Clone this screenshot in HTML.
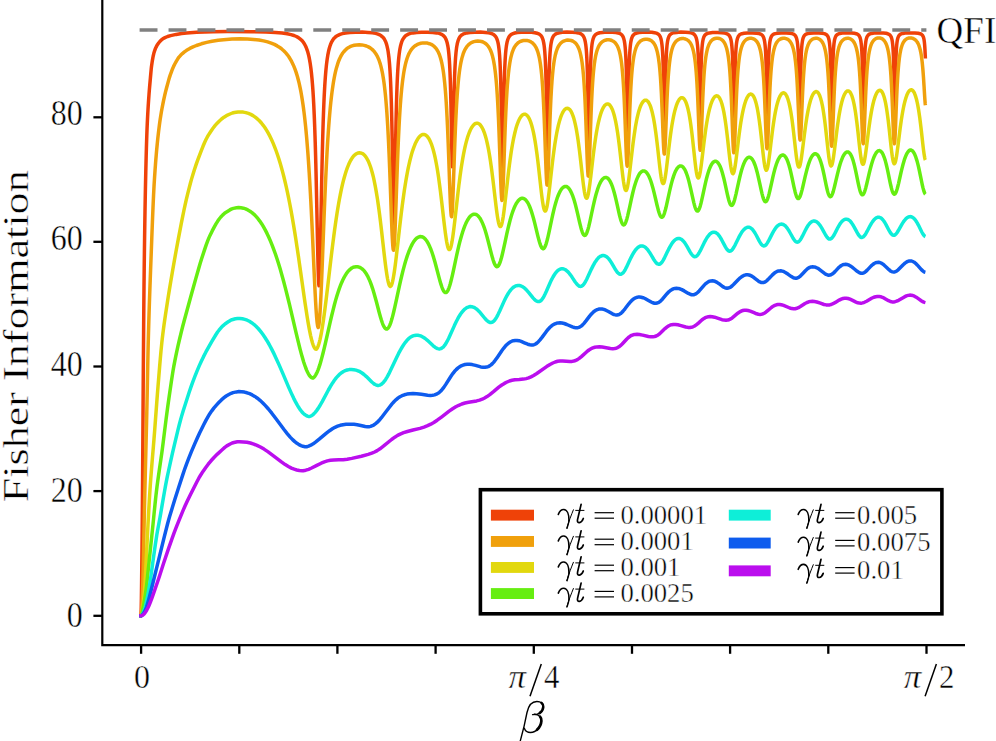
<!DOCTYPE html>
<html><head><meta charset="utf-8"><title>Fisher Information</title>
<style>html,body{margin:0;padding:0;background:#fff;}svg{display:block}</style></head>
<body><svg width="996" height="741" viewBox="0 0 996 741">
<rect x="0" y="0" width="996" height="741" fill="#fff"/>
<path d="M139.2,615.8 L140.8,615.8 L141.0,615.6 L141.2,609.9 L141.4,598.3 L141.6,582.9 L142.0,548.6 L142.2,528.0 L142.4,503.7 L142.6,477.7 L142.8,447.8 L143.0,415.7 L143.2,385.4 L143.4,358.6 L143.6,332.7 L143.8,308.3 L144.0,286.6 L144.2,268.5 L144.4,252.4 L144.6,237.5 L144.8,223.9 L145.0,211.3 L145.2,199.9 L145.4,189.5 L145.6,180.1 L145.8,171.3 L146.0,163.1 L146.2,155.3 L146.4,148.1 L146.6,141.5 L146.8,135.5 L147.0,130.0 L147.2,125.2 L147.4,120.8 L147.6,116.8 L147.8,113.0 L148.0,109.5 L148.2,106.2 L148.4,103.1 L148.6,100.2 L149.0,94.5 L149.2,91.9 L149.4,89.4 L149.6,87.0 L150.4,78.0 L150.8,73.5 L151.0,71.3 L151.2,69.2 L151.4,67.3 L151.6,65.7 L152.0,62.9 L152.4,60.4 L152.8,58.1 L153.2,56.0 L153.6,54.3 L154.0,52.7 L154.6,50.8 L155.2,49.2 L155.8,47.7 L156.6,46.1 L157.4,44.7 L158.6,43.0 L160.0,41.3 L161.4,39.9 L162.8,38.8 L165.0,37.6 L167.6,36.5 L170.6,35.6 L176.2,34.4 L181.6,33.5 L186.6,32.9 L196.6,32.3 L213.0,31.8 L227.6,31.6 L252.0,31.7 L266.0,32.0 L275.4,32.4 L282.2,33.0 L287.2,33.8 L291.0,34.6 L294.0,35.5 L296.4,36.5 L298.4,37.6 L300.0,38.8 L301.4,40.0 L302.6,41.3 L303.6,42.6 L304.6,44.2 L305.4,45.7 L306.2,47.5 L306.8,49.1 L307.4,50.8 L308.0,52.8 L308.6,55.2 L309.0,56.9 L309.4,58.9 L309.8,61.1 L310.2,63.5 L310.6,66.2 L310.8,67.7 L311.0,69.3 L311.2,70.9 L311.4,72.7 L311.6,74.6 L311.8,76.6 L312.0,78.7 L312.2,81.0 L312.4,83.4 L312.6,86.0 L312.8,88.7 L313.0,91.7 L313.2,94.8 L313.4,98.2 L313.6,101.8 L313.8,105.7 L314.0,109.9 L314.2,114.3 L314.4,119.1 L314.6,124.2 L314.8,129.7 L315.0,135.6 L315.2,141.9 L315.4,148.6 L315.6,155.8 L315.8,163.4 L316.0,171.4 L316.2,179.9 L316.4,188.7 L316.6,198.0 L316.8,207.5 L317.4,236.7 L317.6,246.1 L317.8,255.1 L318.0,263.3 L318.2,270.6 L318.4,276.7 L318.6,281.3 L318.8,284.4 L319.0,285.7 L319.2,285.2 L319.4,282.8 L319.6,278.6 L319.8,272.9 L320.0,265.7 L320.2,257.4 L320.4,248.0 L320.6,238.1 L320.8,227.6 L321.2,206.4 L321.4,195.9 L321.6,185.8 L321.8,176.0 L322.0,166.7 L322.2,157.9 L322.4,149.6 L322.6,141.8 L322.8,134.5 L323.0,127.7 L323.2,121.4 L323.4,115.6 L323.6,110.2 L323.8,105.2 L324.0,100.5 L324.2,96.2 L324.4,92.3 L324.6,88.6 L324.8,85.2 L325.0,82.0 L325.2,79.1 L325.4,76.4 L325.6,73.9 L325.8,71.5 L326.0,69.3 L326.2,67.3 L326.4,65.4 L326.6,63.6 L326.8,62.0 L327.0,60.5 L327.2,59.0 L327.4,57.7 L327.8,55.2 L328.2,53.1 L328.6,51.2 L329.0,49.5 L329.4,48.0 L330.0,46.0 L330.6,44.3 L331.2,42.9 L332.0,41.3 L332.8,40.0 L333.8,38.6 L335.0,37.4 L336.4,36.2 L338.0,35.3 L340.0,34.4 L342.4,33.6 L345.6,33.0 L349.8,32.5 L355.4,32.2 L362.2,32.1 L368.0,32.4 L372.4,32.8 L375.6,33.4 L378.0,34.1 L379.8,34.9 L381.2,35.8 L382.4,36.8 L383.4,37.8 L384.2,38.9 L384.8,40.0 L385.4,41.2 L386.0,42.7 L386.4,43.8 L386.8,45.2 L387.2,46.8 L387.6,48.6 L387.8,49.6 L388.0,50.8 L388.2,52.0 L388.4,53.4 L388.6,54.9 L388.8,56.5 L389.0,58.3 L389.2,60.3 L389.4,62.5 L389.6,64.9 L389.8,67.6 L390.0,70.6 L390.2,74.0 L390.4,77.7 L390.6,82.0 L390.8,86.7 L391.0,92.1 L391.2,98.1 L391.4,104.9 L391.6,112.5 L391.8,121.0 L392.0,130.5 L392.2,140.9 L392.4,152.3 L392.6,164.5 L393.0,189.7 L393.2,201.6 L393.4,211.9 L393.6,219.8 L393.8,224.4 L394.0,225.2 L394.2,222.1 L394.4,215.4 L394.6,205.8 L394.8,194.3 L395.0,181.7 L395.2,168.8 L395.4,156.2 L395.6,144.3 L395.8,133.3 L396.0,123.3 L396.2,114.2 L396.4,106.2 L396.6,99.0 L396.8,92.6 L397.0,87.0 L397.2,82.0 L397.4,77.6 L397.6,73.6 L397.8,70.1 L398.0,67.0 L398.2,64.2 L398.4,61.7 L398.6,59.4 L398.8,57.4 L399.0,55.6 L399.2,53.9 L399.4,52.4 L399.6,51.0 L399.8,49.8 L400.0,48.6 L400.2,47.6 L400.6,45.7 L401.0,44.2 L401.4,42.8 L401.8,41.7 L402.4,40.2 L403.0,39.1 L403.8,37.8 L404.6,36.8 L405.6,35.8 L406.8,35.0 L408.4,34.1 L410.4,33.4 L413.0,32.9 L416.6,32.4 L421.6,32.2 L427.8,32.2 L433.0,32.4 L436.6,32.9 L439.2,33.4 L441.0,34.1 L442.4,34.8 L443.4,35.6 L444.2,36.4 L445.0,37.4 L445.6,38.5 L446.2,39.8 L446.6,40.9 L447.0,42.2 L447.2,43.0 L447.4,43.8 L447.6,44.8 L447.8,45.8 L448.0,47.0 L448.2,48.3 L448.4,49.8 L448.6,51.5 L448.8,53.4 L449.0,55.6 L449.2,58.1 L449.4,60.9 L449.6,64.2 L449.8,68.1 L450.0,72.5 L450.2,77.6 L450.4,83.6 L450.6,90.5 L450.8,98.4 L451.0,107.4 L451.2,117.5 L451.4,128.3 L451.6,139.4 L451.8,150.0 L452.0,158.9 L452.2,164.8 L452.4,166.8 L452.6,164.5 L452.8,158.2 L453.0,149.1 L453.2,138.4 L453.4,127.2 L453.6,116.3 L453.8,106.2 L454.0,97.2 L454.2,89.3 L454.4,82.5 L454.6,76.5 L454.8,71.5 L455.0,67.1 L455.2,63.3 L455.4,60.1 L455.6,57.2 L455.8,54.8 L456.0,52.6 L456.2,50.8 L456.4,49.1 L456.6,47.6 L456.8,46.3 L457.0,45.2 L457.2,44.2 L457.4,43.2 L457.6,42.4 L458.0,41.0 L458.4,39.8 L458.8,38.8 L459.4,37.7 L460.0,36.7 L460.8,35.8 L461.8,34.9 L463.0,34.2 L464.6,33.5 L466.8,32.9 L470.0,32.5 L474.6,32.2 L480.4,32.1 L485.4,32.4 L488.6,32.8 L490.8,33.3 L492.4,33.9 L493.6,34.6 L494.6,35.4 L495.4,36.2 L496.0,37.1 L496.6,38.3 L497.0,39.2 L497.4,40.4 L497.6,41.1 L497.8,41.9 L498.0,42.7 L498.2,43.7 L498.4,44.8 L498.6,46.1 L498.8,47.5 L499.0,49.1 L499.2,51.0 L499.4,53.2 L499.6,55.7 L499.8,58.7 L500.0,62.2 L500.2,66.4 L500.4,71.4 L500.6,77.3 L500.8,84.3 L501.0,92.7 L501.2,102.6 L501.4,114.2 L501.6,127.1 L501.8,140.9 L502.0,154.3 L502.2,165.3 L502.4,171.9 L502.6,172.5 L502.8,166.9 L503.0,156.4 L503.2,143.2 L503.4,129.3 L503.6,116.1 L503.8,104.2 L504.0,94.0 L504.2,85.3 L504.4,78.0 L504.6,71.9 L504.8,66.8 L505.0,62.5 L505.2,58.9 L505.4,55.8 L505.6,53.2 L505.8,51.0 L506.0,49.1 L506.2,47.4 L506.4,45.9 L506.6,44.7 L506.8,43.6 L507.0,42.6 L507.2,41.7 L507.4,40.9 L507.8,39.6 L508.2,38.5 L508.6,37.7 L509.2,36.6 L509.8,35.8 L510.6,35.0 L511.6,34.3 L513.0,33.6 L514.8,33.0 L517.4,32.5 L521.2,32.2 L526.6,32.1 L531.6,32.3 L534.8,32.7 L537.0,33.2 L538.6,33.8 L539.8,34.5 L540.6,35.2 L541.2,35.9 L541.8,36.8 L542.2,37.6 L542.6,38.6 L543.0,39.8 L543.2,40.5 L543.4,41.4 L543.6,42.3 L543.8,43.4 L544.0,44.6 L544.2,46.1 L544.4,47.8 L544.6,49.7 L544.8,52.1 L545.0,54.9 L545.2,58.2 L545.4,62.2 L545.6,67.1 L545.8,73.0 L546.0,80.1 L546.2,88.8 L546.4,99.1 L546.6,110.9 L546.8,123.8 L547.0,136.4 L547.2,146.6 L547.4,152.1 L547.6,151.1 L547.8,144.1 L548.0,132.9 L548.2,120.0 L548.4,107.3 L548.6,95.8 L548.8,85.9 L549.0,77.7 L549.2,70.9 L549.4,65.3 L549.6,60.7 L549.8,56.8 L550.0,53.7 L550.2,51.1 L550.4,48.8 L550.6,47.0 L550.8,45.3 L551.0,44.0 L551.2,42.8 L551.4,41.8 L551.6,40.9 L551.8,40.1 L552.2,38.8 L552.6,37.7 L553.0,36.9 L553.6,35.9 L554.2,35.2 L555.0,34.5 L556.0,33.8 L557.4,33.2 L559.4,32.7 L562.4,32.3 L567.0,32.1 L572.2,32.2 L576.0,32.5 L578.4,32.9 L580.0,33.4 L581.2,34.0 L582.2,34.8 L582.8,35.4 L583.4,36.2 L583.8,37.0 L584.2,37.9 L584.6,39.0 L584.8,39.7 L585.0,40.5 L585.2,41.4 L585.4,42.5 L585.6,43.7 L585.8,45.1 L586.0,46.8 L586.2,48.8 L586.4,51.2 L586.6,54.1 L586.8,57.7 L587.0,62.0 L587.2,67.3 L587.4,73.8 L587.6,81.9 L587.8,91.7 L588.0,103.3 L588.2,116.2 L588.4,129.4 L588.6,140.4 L588.8,146.4 L589.0,145.4 L589.2,137.9 L589.4,126.0 L589.6,112.7 L589.8,99.9 L590.0,88.7 L590.2,79.4 L590.4,71.7 L590.6,65.5 L590.8,60.5 L591.0,56.4 L591.2,53.1 L591.4,50.3 L591.6,48.0 L591.8,46.1 L592.0,44.5 L592.2,43.1 L592.4,42.0 L592.6,41.0 L592.8,40.1 L593.0,39.3 L593.4,38.1 L593.8,37.1 L594.2,36.3 L594.8,35.4 L595.6,34.6 L596.6,33.9 L598.0,33.2 L599.8,32.7 L602.6,32.4 L607.0,32.1 L612.2,32.2 L615.8,32.5 L618.2,32.9 L619.8,33.5 L620.8,34.0 L621.6,34.7 L622.2,35.4 L622.8,36.3 L623.2,37.1 L623.6,38.2 L623.8,38.8 L624.0,39.6 L624.2,40.4 L624.4,41.4 L624.6,42.6 L624.8,44.0 L625.0,45.7 L625.2,47.6 L625.4,50.0 L625.6,53.0 L625.8,56.6 L626.0,61.1 L626.2,66.7 L626.4,73.7 L626.6,82.4 L626.8,92.8 L627.0,104.9 L627.2,117.6 L627.4,128.6 L627.6,135.0 L627.8,134.5 L628.0,127.2 L628.2,115.7 L628.4,102.9 L628.6,91.0 L628.8,80.7 L629.0,72.3 L629.2,65.5 L629.4,60.1 L629.6,55.7 L629.8,52.2 L630.0,49.4 L630.2,47.1 L630.4,45.2 L630.6,43.6 L630.8,42.2 L631.0,41.1 L631.2,40.1 L631.4,39.3 L631.6,38.6 L632.0,37.4 L632.4,36.5 L633.0,35.5 L633.6,34.8 L634.4,34.1 L635.4,33.5 L636.8,33.0 L639.0,32.5 L642.4,32.2 L647.4,32.1 L651.8,32.3 L654.6,32.7 L656.4,33.1 L657.6,33.7 L658.6,34.4 L659.2,35.0 L659.8,35.9 L660.2,36.7 L660.6,37.7 L660.8,38.3 L661.0,39.0 L661.2,39.9 L661.4,40.8 L661.6,42.0 L661.8,43.4 L662.0,45.0 L662.2,47.0 L662.4,49.5 L662.6,52.5 L662.8,56.3 L663.0,61.1 L663.2,67.1 L663.4,74.7 L663.6,84.1 L663.8,95.4 L664.0,107.8 L664.2,119.6 L664.4,127.7 L664.6,129.1 L664.8,123.3 L665.0,112.5 L665.2,100.0 L665.4,88.1 L665.6,77.9 L665.8,69.7 L666.0,63.1 L666.2,57.9 L666.4,53.7 L666.6,50.4 L666.8,47.8 L667.0,45.6 L667.2,43.8 L667.4,42.4 L667.6,41.1 L667.8,40.1 L668.0,39.2 L668.2,38.5 L668.4,37.8 L668.8,36.8 L669.2,35.9 L669.8,35.0 L670.4,34.4 L671.2,33.8 L672.4,33.2 L674.0,32.7 L676.6,32.4 L680.8,32.1 L685.6,32.2 L689.0,32.5 L691.2,32.9 L692.6,33.4 L693.6,33.9 L694.4,34.6 L695.0,35.3 L695.4,36.0 L695.8,36.8 L696.2,37.8 L696.4,38.5 L696.6,39.3 L696.8,40.2 L697.0,41.3 L697.2,42.6 L697.4,44.2 L697.6,46.1 L697.8,48.4 L698.0,51.4 L698.2,55.1 L698.4,59.8 L698.6,65.7 L698.8,73.3 L699.0,82.8 L699.2,94.0 L699.4,106.3 L699.6,117.4 L699.8,123.9 L700.0,123.1 L700.2,115.4 L700.4,103.8 L700.6,91.5 L700.8,80.6 L701.0,71.5 L701.2,64.3 L701.4,58.6 L701.6,54.2 L701.8,50.6 L702.0,47.8 L702.2,45.6 L702.4,43.8 L702.6,42.3 L702.8,41.0 L703.0,40.0 L703.2,39.1 L703.4,38.4 L703.6,37.7 L704.0,36.7 L704.4,35.9 L705.0,35.1 L705.6,34.5 L706.6,33.8 L707.8,33.3 L709.6,32.9 L712.6,32.6 L717.4,32.6 L721.8,32.8 L724.6,33.1 L726.4,33.6 L727.6,34.1 L728.4,34.7 L729.0,35.3 L729.6,36.1 L730.0,36.9 L730.4,37.8 L730.6,38.5 L730.8,39.2 L731.0,40.0 L731.2,41.0 L731.4,42.3 L731.6,43.7 L731.8,45.6 L732.0,47.8 L732.2,50.6 L732.4,54.1 L732.6,58.7 L732.8,64.5 L733.0,71.9 L733.2,81.2 L733.4,92.4 L733.6,104.4 L733.8,114.8 L734.0,120.0 L734.2,117.7 L734.4,108.9 L734.8,85.5 L735.0,75.4 L735.2,67.2 L735.4,60.8 L735.6,55.8 L735.8,51.9 L736.0,48.8 L736.2,46.3 L736.4,44.4 L736.6,42.8 L736.8,41.5 L737.0,40.4 L737.2,39.5 L737.4,38.7 L737.6,38.1 L738.0,37.1 L738.4,36.3 L739.0,35.4 L739.6,34.8 L740.6,34.2 L742.0,33.7 L744.0,33.3 L747.4,33.0 L752.6,32.9 L756.6,33.2 L759.0,33.6 L760.4,34.0 L761.4,34.5 L762.2,35.2 L762.8,35.9 L763.2,36.6 L763.6,37.5 L763.8,38.0 L764.0,38.7 L764.2,39.4 L764.4,40.4 L764.6,41.4 L764.8,42.8 L765.0,44.4 L765.2,46.4 L765.4,48.9 L765.6,52.0 L765.8,56.1 L766.0,61.3 L766.2,68.1 L766.4,76.7 L766.6,87.2 L766.8,99.0 L767.0,109.9 L767.2,116.4 L767.4,115.5 L767.6,107.8 L767.8,96.4 L768.0,84.7 L768.2,74.6 L768.4,66.4 L768.6,60.0 L768.8,55.0 L769.0,51.2 L769.2,48.2 L769.4,45.8 L769.6,43.9 L769.8,42.4 L770.0,41.1 L770.2,40.1 L770.4,39.2 L770.6,38.5 L770.8,37.9 L771.2,36.9 L771.6,36.1 L772.2,35.3 L773.0,34.6 L774.0,34.0 L775.4,33.6 L777.6,33.2 L781.2,33.0 L786.2,33.0 L789.8,33.2 L792.0,33.6 L793.4,34.1 L794.4,34.7 L795.0,35.3 L795.6,36.1 L796.0,36.9 L796.4,37.9 L796.6,38.5 L796.8,39.3 L797.0,40.2 L797.2,41.3 L797.4,42.6 L797.6,44.2 L797.8,46.3 L798.0,48.8 L798.2,52.1 L798.4,56.4 L798.6,61.9 L798.8,69.0 L799.0,78.0 L799.2,88.8 L799.4,100.4 L799.6,110.0 L799.8,113.9 L800.0,110.1 L800.2,100.6 L800.4,89.0 L800.6,78.1 L800.8,69.0 L801.0,61.9 L801.2,56.4 L801.4,52.1 L801.6,48.8 L801.8,46.2 L802.0,44.2 L802.2,42.6 L802.4,41.2 L802.6,40.1 L802.8,39.2 L803.0,38.5 L803.2,37.8 L803.6,36.8 L804.0,36.1 L804.6,35.3 L805.4,34.6 L806.4,34.0 L807.8,33.6 L810.0,33.2 L813.8,33.0 L818.8,33.0 L822.2,33.2 L824.2,33.6 L825.6,34.2 L826.4,34.7 L827.0,35.2 L827.6,36.0 L828.0,36.7 L828.4,37.7 L828.6,38.3 L828.8,39.0 L829.0,39.9 L829.2,40.9 L829.4,42.2 L829.6,43.8 L829.8,45.8 L830.0,48.3 L830.2,51.6 L830.4,55.7 L830.6,61.2 L830.8,68.2 L831.0,77.2 L831.2,88.0 L831.4,99.4 L831.6,108.7 L831.8,112.0 L832.0,107.6 L832.2,97.8 L832.4,86.3 L832.6,75.7 L832.8,67.0 L833.0,60.2 L833.2,55.0 L833.4,51.0 L833.6,47.9 L833.8,45.5 L834.0,43.5 L834.2,42.0 L834.4,40.7 L834.6,39.7 L834.8,38.9 L835.0,38.2 L835.2,37.6 L835.6,36.6 L836.0,35.9 L836.6,35.1 L837.4,34.5 L838.4,33.9 L840.0,33.5 L842.4,33.1 L846.6,32.9 L851.4,33.0 L854.4,33.3 L856.2,33.7 L857.4,34.2 L858.2,34.7 L858.8,35.3 L859.4,36.2 L859.8,37.0 L860.0,37.5 L860.2,38.1 L860.4,38.8 L860.6,39.7 L860.8,40.7 L861.0,41.9 L861.2,43.5 L861.4,45.4 L861.6,47.9 L861.8,51.0 L862.0,55.1 L862.2,60.5 L862.4,67.4 L862.6,76.3 L862.8,87.0 L863.0,98.4 L863.2,107.6 L863.4,110.7 L863.6,106.2 L863.8,96.3 L864.0,84.9 L864.2,74.5 L864.4,66.0 L864.6,59.3 L864.8,54.3 L865.0,50.4 L865.2,47.4 L865.4,45.0 L865.6,43.2 L865.8,41.7 L866.0,40.5 L866.2,39.5 L866.4,38.6 L866.6,38.0 L866.8,37.4 L867.2,36.5 L867.6,35.8 L868.2,35.1 L869.0,34.4 L870.0,33.9 L871.6,33.4 L874.2,33.1 L878.6,32.9 L883.2,33.0 L886.0,33.3 L887.8,33.8 L889.0,34.3 L889.8,34.9 L890.4,35.6 L890.8,36.2 L891.2,37.0 L891.4,37.5 L891.6,38.1 L891.8,38.9 L892.0,39.7 L892.2,40.8 L892.4,42.1 L892.6,43.7 L892.8,45.7 L893.0,48.3 L893.2,51.6 L893.4,55.9 L893.6,61.5 L893.8,68.8 L894.0,78.1 L894.2,89.0 L894.4,100.1 L894.6,107.9 L894.8,109.0 L895.0,102.7 L895.2,92.1 L895.4,80.9 L895.6,71.1 L895.8,63.2 L896.0,57.2 L896.2,52.6 L896.4,49.0 L896.6,46.3 L896.8,44.1 L897.0,42.4 L897.2,41.0 L897.4,39.9 L897.6,39.0 L897.8,38.3 L898.0,37.6 L898.4,36.6 L898.8,35.9 L899.4,35.1 L900.2,34.4 L901.2,33.9 L902.8,33.4 L905.2,33.1 L909.4,32.9 L914.8,33.0 L918.2,33.3 L920.0,33.7 L921.2,34.2 L922.0,34.8 L922.6,35.5 L923.0,36.1 L923.2,36.6 L923.4,37.1 L923.6,37.7 L923.8,38.5 L924.0,39.5 L924.2,40.7 L924.4,42.3 L924.6,44.3 L924.8,47.0 L925.0,50.4 L925.2,54.7 L925.4,58.5" fill="none" stroke="#ef4208" stroke-width="3.5" stroke-linejoin="round" stroke-linecap="butt"/>
<path d="M139.2,615.8 L141.0,615.8 L141.2,614.9 L141.4,613.0 L141.6,610.3 L141.8,606.9 L142.0,603.0 L142.2,598.8 L142.4,594.5 L142.6,589.8 L142.8,583.7 L143.0,576.5 L143.2,568.3 L143.4,559.3 L143.6,549.9 L143.8,540.1 L144.0,530.2 L144.2,520.4 L144.4,511.0 L144.6,502.1 L144.8,493.8 L145.0,485.6 L145.4,469.5 L145.8,453.6 L146.0,445.5 L146.2,437.3 L146.4,429.1 L146.6,420.6 L146.8,411.9 L147.0,402.8 L147.2,393.0 L147.4,382.9 L147.6,372.6 L147.8,362.5 L148.0,352.9 L148.2,344.0 L148.4,336.2 L148.6,329.0 L148.8,322.0 L149.0,315.4 L149.2,309.0 L149.4,302.9 L149.6,297.0 L149.8,291.3 L150.0,285.7 L150.2,280.2 L150.6,269.5 L151.8,237.7 L152.2,227.2 L152.4,222.1 L152.6,217.2 L152.8,212.3 L153.0,207.6 L153.2,203.0 L153.4,198.6 L153.6,194.4 L153.8,190.5 L154.0,186.7 L154.2,183.2 L154.4,180.0 L154.6,176.8 L154.8,173.8 L155.0,170.9 L155.2,168.0 L155.4,165.3 L155.6,162.7 L155.8,160.1 L156.2,155.3 L156.6,150.7 L157.0,146.5 L157.4,142.4 L157.8,138.5 L158.2,134.9 L158.6,131.4 L159.0,128.1 L159.4,125.0 L159.8,122.1 L160.2,119.3 L160.8,115.4 L161.4,111.8 L162.0,108.5 L162.8,104.3 L163.6,100.4 L164.6,95.9 L165.4,92.4 L166.4,88.5 L168.4,81.1 L169.4,77.6 L170.2,75.1 L171.4,71.8 L172.6,68.7 L173.6,66.4 L174.8,64.0 L176.4,61.1 L177.8,58.8 L179.0,57.1 L180.6,55.3 L182.4,53.6 L184.4,51.9 L186.6,50.3 L189.8,48.4 L193.0,46.9 L196.4,45.5 L201.4,43.8 L206.6,42.4 L212.0,41.3 L218.2,40.3 L226.4,39.4 L232.0,39.0 L239.8,38.8 L247.4,39.0 L253.6,39.4 L259.0,40.0 L263.6,40.9 L267.6,41.9 L271.2,43.1 L274.4,44.4 L277.2,45.9 L279.8,47.5 L282.0,49.2 L284.0,51.0 L285.8,52.9 L287.4,54.8 L289.0,57.0 L290.4,59.3 L291.6,61.4 L292.8,63.9 L293.8,66.1 L294.8,68.6 L295.8,71.4 L296.6,73.9 L297.4,76.5 L298.2,79.5 L299.0,82.7 L299.6,85.3 L300.2,88.2 L300.8,91.2 L301.4,94.5 L302.0,98.1 L302.6,101.9 L303.2,106.1 L303.6,109.0 L304.0,112.1 L304.4,115.4 L304.8,118.9 L305.2,122.6 L305.6,126.4 L306.0,130.5 L306.4,134.9 L306.8,139.4 L307.2,144.3 L307.6,149.3 L308.0,154.7 L308.4,160.4 L308.8,166.3 L309.2,172.6 L309.6,179.2 L310.0,186.1 L310.4,193.3 L310.8,200.8 L311.2,208.7 L311.6,216.8 L312.0,225.2 L312.4,233.7 L313.0,246.9 L314.0,269.1 L314.4,277.8 L314.6,282.0 L314.8,286.2 L315.0,290.2 L315.2,294.1 L315.4,297.9 L315.6,301.6 L315.8,305.0 L316.0,308.3 L316.2,311.4 L316.4,314.2 L316.6,316.8 L316.8,319.2 L317.0,321.3 L317.2,323.1 L317.4,324.6 L317.6,325.8 L317.8,326.7 L318.0,327.2 L318.2,327.5 L318.4,327.2 L318.6,326.5 L318.8,325.5 L319.0,324.2 L319.2,322.6 L319.4,320.6 L319.6,318.3 L319.8,315.6 L320.0,312.7 L320.2,309.5 L320.4,306.0 L320.6,302.3 L320.8,298.3 L321.0,294.2 L321.2,289.8 L321.4,285.2 L321.6,280.5 L321.8,275.6 L322.0,270.7 L322.4,260.5 L323.6,229.2 L324.0,218.9 L324.4,208.9 L324.6,204.0 L324.8,199.2 L325.0,194.5 L325.2,189.9 L325.4,185.4 L325.6,181.0 L325.8,176.7 L326.0,172.5 L326.2,168.4 L326.4,164.4 L326.6,160.5 L326.8,156.8 L327.0,153.2 L327.2,149.6 L327.4,146.2 L327.6,142.9 L327.8,139.7 L328.0,136.6 L328.2,133.5 L328.4,130.6 L328.6,127.8 L328.8,125.1 L329.0,122.5 L329.2,119.9 L329.4,117.5 L329.6,115.1 L330.0,110.6 L330.4,106.4 L330.8,102.4 L331.2,98.8 L331.6,95.3 L332.0,92.1 L332.4,89.2 L332.8,86.4 L333.2,83.8 L333.6,81.3 L334.2,78.0 L334.8,74.9 L335.4,72.2 L336.0,69.7 L336.6,67.4 L337.2,65.4 L338.0,62.9 L338.8,60.7 L339.6,58.8 L340.6,56.7 L341.6,54.9 L342.6,53.3 L343.8,51.7 L345.2,50.2 L346.6,48.9 L348.2,47.7 L350.0,46.7 L352.0,45.9 L354.2,45.3 L356.6,44.9 L359.2,44.8 L361.8,44.9 L364.2,45.4 L366.4,46.0 L368.4,46.9 L370.2,47.9 L371.8,49.1 L373.2,50.4 L374.4,51.7 L375.6,53.4 L376.6,55.0 L377.6,56.9 L378.4,58.7 L379.2,60.7 L379.8,62.5 L380.4,64.4 L381.0,66.6 L381.6,69.1 L382.2,71.9 L382.6,73.9 L383.0,76.2 L383.4,78.6 L383.8,81.3 L384.2,84.3 L384.6,87.5 L384.8,89.2 L385.0,91.0 L385.2,92.9 L385.4,94.8 L385.6,96.9 L385.8,99.1 L386.0,101.4 L386.2,103.8 L386.4,106.3 L386.6,108.9 L386.8,111.7 L387.0,114.6 L387.2,117.6 L387.4,120.8 L387.6,124.2 L387.8,127.7 L388.0,131.4 L388.2,135.2 L388.4,139.2 L388.6,143.4 L388.8,147.8 L389.0,152.3 L389.2,157.0 L389.4,161.9 L389.6,167.0 L389.8,172.2 L390.0,177.5 L390.2,183.0 L390.6,194.2 L391.0,205.4 L391.2,211.0 L391.4,216.4 L391.6,221.7 L391.8,226.7 L392.0,231.4 L392.2,235.8 L392.4,239.6 L392.6,243.0 L392.8,245.8 L393.0,247.9 L393.2,249.4 L393.4,250.2 L393.6,250.2 L393.8,249.5 L394.0,248.1 L394.2,246.0 L394.4,243.2 L394.6,239.8 L394.8,235.9 L395.0,231.5 L395.2,226.7 L395.4,221.5 L395.6,216.1 L395.8,210.4 L396.2,198.8 L396.6,187.0 L396.8,181.2 L397.0,175.5 L397.2,169.9 L397.4,164.5 L397.6,159.2 L397.8,154.1 L398.0,149.1 L398.2,144.4 L398.4,139.8 L398.6,135.5 L398.8,131.3 L399.0,127.3 L399.2,123.5 L399.4,119.9 L399.6,116.4 L399.8,113.1 L400.0,110.0 L400.2,107.0 L400.4,104.2 L400.6,101.5 L400.8,98.9 L401.0,96.5 L401.2,94.2 L401.4,92.0 L401.6,89.9 L401.8,87.9 L402.0,86.0 L402.2,84.2 L402.4,82.5 L402.8,79.3 L403.2,76.4 L403.6,73.7 L404.0,71.3 L404.4,69.1 L404.8,67.1 L405.4,64.4 L406.0,62.0 L406.6,59.9 L407.2,58.0 L407.8,56.4 L408.6,54.4 L409.4,52.8 L410.4,51.0 L411.4,49.5 L412.6,48.1 L414.0,46.7 L415.4,45.6 L417.0,44.7 L418.8,43.9 L420.8,43.3 L423.0,42.9 L425.2,42.9 L427.4,43.1 L429.4,43.7 L431.2,44.4 L432.8,45.3 L434.2,46.4 L435.4,47.7 L436.4,48.9 L437.4,50.5 L438.2,51.9 L439.0,53.7 L439.6,55.2 L440.2,57.0 L440.8,59.0 L441.4,61.3 L441.8,63.0 L442.2,65.0 L442.6,67.1 L443.0,69.5 L443.4,72.1 L443.6,73.6 L443.8,75.1 L444.0,76.7 L444.2,78.4 L444.4,80.2 L444.6,82.1 L444.8,84.1 L445.0,86.3 L445.2,88.5 L445.4,90.9 L445.6,93.5 L445.8,96.2 L446.0,99.0 L446.2,102.0 L446.4,105.3 L446.6,108.7 L446.8,112.3 L447.0,116.1 L447.2,120.1 L447.4,124.3 L447.6,128.8 L447.8,133.5 L448.0,138.4 L448.2,143.5 L448.4,148.8 L448.6,154.2 L448.8,159.8 L449.2,171.4 L449.6,182.9 L449.8,188.5 L450.0,193.8 L450.2,198.8 L450.4,203.4 L450.6,207.5 L450.8,210.9 L451.0,213.5 L451.2,215.4 L451.4,216.5 L451.6,216.6 L451.8,215.8 L452.0,214.2 L452.2,211.8 L452.4,208.6 L452.6,204.7 L452.8,200.2 L453.0,195.2 L453.2,189.9 L453.4,184.3 L453.6,178.5 L454.2,160.9 L454.4,155.1 L454.6,149.5 L454.8,144.0 L455.0,138.7 L455.2,133.7 L455.4,128.8 L455.6,124.2 L455.8,119.8 L456.0,115.7 L456.2,111.8 L456.4,108.0 L456.6,104.5 L456.8,101.2 L457.0,98.1 L457.2,95.1 L457.4,92.3 L457.6,89.7 L457.8,87.3 L458.0,84.9 L458.2,82.7 L458.4,80.7 L458.6,78.7 L458.8,76.9 L459.0,75.1 L459.2,73.5 L459.4,71.9 L459.8,69.1 L460.2,66.5 L460.6,64.2 L461.0,62.2 L461.4,60.3 L461.8,58.6 L462.4,56.4 L463.0,54.4 L463.6,52.7 L464.2,51.3 L465.0,49.6 L465.8,48.2 L466.8,46.7 L467.8,45.5 L469.0,44.3 L470.4,43.2 L472.0,42.3 L473.8,41.6 L475.8,41.2 L477.8,41.0 L479.8,41.2 L481.6,41.5 L483.4,42.2 L484.8,43.0 L486.2,44.0 L487.4,45.2 L488.4,46.5 L489.2,47.7 L490.0,49.2 L490.6,50.5 L491.2,52.0 L491.8,53.7 L492.4,55.7 L492.8,57.3 L493.2,59.0 L493.6,60.9 L494.0,63.1 L494.4,65.5 L494.6,66.8 L494.8,68.2 L495.0,69.7 L495.2,71.3 L495.4,73.0 L495.6,74.8 L495.8,76.7 L496.0,78.7 L496.2,80.9 L496.4,83.2 L496.6,85.7 L496.8,88.4 L497.0,91.2 L497.2,94.2 L497.4,97.5 L497.6,100.9 L497.8,104.6 L498.0,108.5 L498.2,112.6 L498.4,117.0 L498.6,121.6 L498.8,126.6 L499.0,131.7 L499.2,137.1 L499.4,142.7 L499.6,148.4 L500.2,166.2 L500.4,172.0 L500.6,177.6 L500.8,182.9 L501.0,187.7 L501.2,191.9 L501.4,195.4 L501.6,198.0 L501.8,199.7 L502.0,200.4 L502.2,200.1 L502.4,198.8 L502.6,196.5 L502.8,193.3 L503.0,189.3 L503.2,184.6 L503.4,179.4 L503.6,173.8 L503.8,168.0 L504.4,149.9 L504.6,144.0 L504.8,138.2 L505.0,132.6 L505.2,127.3 L505.4,122.2 L505.6,117.4 L505.8,112.9 L506.0,108.6 L506.2,104.5 L506.4,100.7 L506.6,97.2 L506.8,93.8 L507.0,90.7 L507.2,87.8 L507.4,85.0 L507.6,82.5 L507.8,80.1 L508.0,77.9 L508.2,75.8 L508.4,73.8 L508.6,72.0 L508.8,70.2 L509.0,68.6 L509.2,67.1 L509.4,65.7 L509.8,63.1 L510.2,60.8 L510.6,58.7 L511.0,56.9 L511.4,55.3 L512.0,53.1 L512.6,51.3 L513.2,49.8 L513.8,48.4 L514.6,46.9 L515.4,45.7 L516.4,44.4 L517.4,43.4 L518.6,42.4 L520.0,41.6 L521.6,41.0 L523.4,40.5 L525.2,40.4 L527.0,40.5 L528.8,40.9 L530.4,41.6 L531.8,42.4 L533.0,43.4 L534.0,44.4 L535.0,45.8 L535.8,47.1 L536.4,48.3 L537.0,49.7 L537.6,51.3 L538.2,53.2 L538.6,54.7 L539.0,56.3 L539.4,58.2 L539.8,60.3 L540.2,62.7 L540.4,64.0 L540.6,65.5 L540.8,67.0 L541.0,68.6 L541.2,70.3 L541.4,72.2 L541.6,74.2 L541.8,76.4 L542.0,78.7 L542.2,81.1 L542.4,83.8 L542.6,86.7 L542.8,89.7 L543.0,93.0 L543.2,96.6 L543.4,100.4 L543.6,104.4 L543.8,108.8 L544.0,113.4 L544.2,118.3 L544.4,123.4 L544.6,128.8 L544.8,134.5 L545.0,140.3 L545.4,152.1 L545.6,158.0 L545.8,163.6 L546.0,168.9 L546.2,173.7 L546.4,177.9 L546.6,181.2 L546.8,183.6 L547.0,184.9 L547.2,185.1 L547.4,184.2 L547.6,182.3 L547.8,179.3 L548.0,175.4 L548.2,170.8 L548.4,165.6 L548.6,160.0 L548.8,154.2 L549.2,142.2 L549.4,136.2 L549.6,130.4 L549.8,124.9 L550.0,119.5 L550.2,114.5 L550.4,109.7 L550.6,105.2 L550.8,101.0 L551.0,97.0 L551.2,93.4 L551.4,89.9 L551.6,86.7 L551.8,83.8 L552.0,81.0 L552.2,78.5 L552.4,76.1 L552.6,73.9 L552.8,71.8 L553.0,69.9 L553.2,68.1 L553.4,66.4 L553.6,64.9 L553.8,63.4 L554.0,62.1 L554.2,60.8 L554.6,58.5 L555.0,56.5 L555.4,54.7 L555.8,53.2 L556.2,51.8 L556.8,50.0 L557.4,48.4 L558.0,47.1 L558.8,45.7 L559.6,44.5 L560.6,43.3 L561.8,42.2 L563.0,41.4 L564.4,40.8 L566.0,40.3 L567.8,40.1 L569.6,40.2 L571.2,40.5 L572.6,41.0 L574.0,41.9 L575.2,42.8 L576.2,43.9 L577.0,45.0 L577.8,46.4 L578.4,47.6 L579.0,49.0 L579.6,50.8 L580.0,52.1 L580.4,53.6 L580.8,55.3 L581.2,57.3 L581.6,59.5 L581.8,60.8 L582.0,62.1 L582.2,63.5 L582.4,65.1 L582.6,66.7 L582.8,68.5 L583.0,70.4 L583.2,72.5 L583.4,74.7 L583.6,77.1 L583.8,79.7 L584.0,82.5 L584.2,85.5 L584.4,88.7 L584.6,92.2 L584.8,96.0 L585.0,100.1 L585.2,104.4 L585.4,109.1 L585.6,114.0 L585.8,119.2 L586.0,124.7 L586.2,130.3 L586.6,142.1 L586.8,148.0 L587.0,153.8 L587.2,159.2 L587.4,164.2 L587.6,168.5 L587.8,171.9 L588.0,174.5 L588.2,175.9 L588.4,176.1 L588.6,175.2 L588.8,173.1 L589.0,170.0 L589.2,166.0 L589.4,161.3 L589.6,156.0 L589.8,150.4 L590.2,138.5 L590.4,132.6 L590.6,126.8 L590.8,121.2 L591.0,115.8 L591.2,110.7 L591.4,106.0 L591.6,101.5 L591.8,97.3 L592.0,93.4 L592.2,89.7 L592.4,86.4 L592.6,83.2 L592.8,80.3 L593.0,77.6 L593.2,75.2 L593.4,72.9 L593.6,70.7 L593.8,68.8 L594.0,66.9 L594.2,65.2 L594.4,63.6 L594.6,62.2 L594.8,60.8 L595.0,59.5 L595.4,57.2 L595.8,55.2 L596.2,53.5 L596.6,51.9 L597.0,50.6 L597.6,48.8 L598.2,47.3 L598.8,46.1 L599.6,44.7 L600.4,43.6 L601.4,42.5 L602.6,41.5 L604.0,40.7 L605.4,40.2 L607.0,39.8 L608.8,39.8 L610.4,40.0 L611.8,40.5 L613.2,41.2 L614.4,42.1 L615.4,43.1 L616.2,44.1 L617.0,45.4 L617.6,46.5 L618.2,47.9 L618.8,49.6 L619.2,50.8 L619.6,52.3 L620.0,54.0 L620.4,55.9 L620.8,58.1 L621.0,59.3 L621.2,60.7 L621.4,62.1 L621.6,63.6 L621.8,65.3 L622.0,67.1 L622.2,69.0 L622.4,71.1 L622.6,73.3 L622.8,75.8 L623.0,78.4 L623.2,81.3 L623.4,84.4 L623.6,87.7 L623.8,91.3 L624.0,95.2 L624.2,99.4 L624.4,103.8 L624.6,108.6 L624.8,113.6 L625.0,118.9 L625.2,124.4 L625.8,141.4 L626.0,146.9 L626.2,152.0 L626.4,156.6 L626.6,160.4 L626.8,163.4 L627.0,165.4 L627.2,166.2 L627.4,165.8 L627.6,164.3 L627.8,161.7 L628.0,158.2 L628.2,153.8 L628.4,148.9 L628.6,143.5 L628.8,137.9 L629.2,126.4 L629.4,120.8 L629.6,115.4 L629.8,110.2 L630.0,105.3 L630.2,100.7 L630.4,96.3 L630.6,92.3 L630.8,88.6 L631.0,85.1 L631.2,81.9 L631.4,78.9 L631.6,76.2 L631.8,73.6 L632.0,71.3 L632.2,69.1 L632.4,67.1 L632.6,65.3 L632.8,63.6 L633.0,62.0 L633.2,60.5 L633.4,59.2 L633.6,57.9 L633.8,56.7 L634.2,54.6 L634.6,52.8 L635.0,51.2 L635.4,49.7 L636.0,47.9 L636.6,46.4 L637.2,45.2 L638.0,43.8 L638.8,42.7 L639.8,41.7 L641.0,40.7 L642.4,39.9 L643.8,39.5 L645.4,39.2 L647.0,39.2 L648.6,39.5 L650.0,40.0 L651.2,40.6 L652.2,41.4 L653.2,42.4 L654.0,43.5 L654.8,44.8 L655.4,46.1 L656.0,47.5 L656.6,49.4 L657.0,50.8 L657.4,52.4 L657.8,54.3 L658.2,56.4 L658.4,57.6 L658.6,58.9 L658.8,60.4 L659.0,61.9 L659.2,63.5 L659.4,65.3 L659.6,67.2 L659.8,69.3 L660.0,71.6 L660.2,74.1 L660.4,76.7 L660.6,79.6 L660.8,82.7 L661.0,86.1 L661.2,89.8 L661.4,93.7 L661.6,97.9 L661.8,102.4 L662.0,107.1 L662.2,112.1 L662.4,117.3 L662.8,127.9 L663.0,133.1 L663.2,138.1 L663.4,142.7 L663.6,146.8 L663.8,150.0 L664.0,152.4 L664.2,153.8 L664.4,154.0 L664.6,153.1 L664.8,151.2 L665.0,148.3 L665.2,144.6 L665.4,140.2 L665.6,135.3 L665.8,130.2 L666.2,119.5 L666.4,114.3 L666.6,109.2 L666.8,104.3 L667.0,99.7 L667.2,95.3 L667.4,91.3 L667.6,87.5 L667.8,84.0 L668.0,80.7 L668.2,77.7 L668.4,74.9 L668.6,72.4 L668.8,70.0 L669.0,67.8 L669.2,65.8 L669.4,64.0 L669.6,62.2 L669.8,60.7 L670.0,59.2 L670.2,57.8 L670.4,56.6 L670.6,55.4 L671.0,53.3 L671.4,51.5 L671.8,49.9 L672.2,48.6 L672.8,46.8 L673.4,45.4 L674.0,44.2 L674.8,42.8 L675.6,41.8 L676.6,40.8 L677.8,39.9 L679.2,39.2 L680.6,38.7 L682.2,38.5 L683.8,38.6 L685.4,39.0 L686.8,39.6 L688.0,40.4 L689.0,41.3 L689.8,42.2 L690.6,43.4 L691.2,44.5 L691.8,45.8 L692.4,47.5 L692.8,48.7 L693.2,50.2 L693.6,51.9 L694.0,53.8 L694.2,54.9 L694.4,56.1 L694.6,57.4 L694.8,58.7 L695.0,60.2 L695.2,61.8 L695.4,63.6 L695.6,65.5 L695.8,67.5 L696.0,69.8 L696.2,72.2 L696.4,74.9 L696.6,77.7 L696.8,80.8 L697.0,84.2 L697.2,87.9 L697.4,91.8 L697.6,96.0 L697.8,100.5 L698.0,105.3 L698.2,110.3 L698.4,115.5 L698.8,126.1 L699.0,131.3 L699.2,136.2 L699.4,140.7 L699.6,144.5 L699.8,147.4 L700.0,149.4 L700.2,150.3 L700.4,150.0 L700.6,148.6 L700.8,146.1 L701.0,142.6 L701.2,138.5 L701.4,133.7 L701.6,128.6 L702.2,112.5 L702.4,107.4 L702.6,102.4 L702.8,97.7 L703.0,93.3 L703.2,89.2 L703.4,85.3 L703.6,81.8 L703.8,78.5 L704.0,75.5 L704.2,72.7 L704.4,70.2 L704.6,67.9 L704.8,65.7 L705.0,63.7 L705.2,61.9 L705.4,60.2 L705.6,58.7 L705.8,57.2 L706.0,55.9 L706.2,54.7 L706.4,53.6 L706.8,51.6 L707.2,49.8 L707.6,48.3 L708.0,47.0 L708.6,45.4 L709.2,44.0 L709.8,42.9 L710.6,41.7 L711.4,40.7 L712.4,39.8 L713.6,39.0 L715.0,38.5 L716.4,38.2 L717.8,38.2 L719.2,38.4 L720.6,39.0 L721.8,39.7 L722.8,40.6 L723.6,41.6 L724.4,42.8 L725.0,43.9 L725.6,45.3 L726.2,47.0 L726.6,48.3 L727.0,49.8 L727.4,51.6 L727.8,53.7 L728.0,54.9 L728.2,56.1 L728.4,57.5 L728.6,59.0 L728.8,60.6 L729.0,62.3 L729.2,64.2 L729.4,66.3 L729.6,68.5 L729.8,71.0 L730.0,73.7 L730.2,76.6 L730.4,79.8 L730.6,83.2 L730.8,87.0 L731.0,91.0 L731.2,95.4 L731.4,100.1 L731.6,105.1 L731.8,110.3 L732.0,115.8 L732.4,127.0 L732.6,132.5 L732.8,137.7 L733.0,142.5 L733.2,146.5 L733.4,149.7 L733.6,151.8 L733.8,152.8 L734.0,152.5 L734.2,150.9 L734.4,148.3 L734.6,144.6 L734.8,140.2 L735.0,135.2 L735.2,129.9 L735.6,118.7 L735.8,113.2 L736.0,107.9 L736.2,102.8 L736.4,98.0 L736.6,93.5 L736.8,89.3 L737.0,85.4 L737.2,81.8 L737.4,78.5 L737.6,75.5 L737.8,72.7 L738.0,70.1 L738.2,67.8 L738.4,65.6 L738.6,63.6 L738.8,61.8 L739.0,60.1 L739.2,58.6 L739.4,57.1 L739.6,55.8 L739.8,54.6 L740.0,53.5 L740.4,51.5 L740.8,49.7 L741.2,48.2 L741.6,46.9 L742.2,45.3 L742.8,43.9 L743.4,42.8 L744.2,41.6 L745.0,40.7 L746.0,39.8 L747.2,39.0 L748.6,38.5 L750.0,38.2 L751.4,38.3 L752.8,38.6 L754.0,39.1 L755.0,39.7 L756.0,40.6 L756.8,41.5 L757.6,42.7 L758.2,43.8 L758.8,45.2 L759.4,46.9 L759.8,48.2 L760.2,49.7 L760.6,51.4 L761.0,53.5 L761.2,54.6 L761.4,55.9 L761.6,57.2 L761.8,58.7 L762.0,60.2 L762.2,61.9 L762.4,63.8 L762.6,65.8 L762.8,68.0 L763.0,70.4 L763.2,73.0 L763.4,75.9 L763.6,78.9 L763.8,82.3 L764.0,85.9 L764.2,89.9 L764.4,94.1 L764.6,98.6 L764.8,103.4 L765.0,108.4 L765.2,113.6 L765.6,124.4 L765.8,129.6 L766.0,134.6 L766.2,139.1 L766.4,142.9 L766.6,145.9 L766.8,147.9 L767.0,148.7 L767.2,148.4 L767.4,146.9 L767.6,144.4 L767.8,140.9 L768.0,136.7 L768.2,131.9 L768.4,126.8 L769.0,110.8 L769.2,105.7 L769.4,100.8 L769.6,96.1 L769.8,91.8 L770.0,87.7 L770.2,84.0 L770.4,80.5 L770.6,77.3 L770.8,74.4 L771.0,71.7 L771.2,69.2 L771.4,66.9 L771.6,64.8 L771.8,62.9 L772.0,61.1 L772.2,59.5 L772.4,57.9 L772.6,56.6 L772.8,55.3 L773.0,54.1 L773.2,53.0 L773.6,51.0 L774.0,49.3 L774.4,47.9 L774.8,46.6 L775.4,45.0 L776.0,43.7 L776.6,42.6 L777.4,41.5 L778.2,40.5 L779.2,39.7 L780.4,39.0 L781.8,38.5 L783.2,38.2 L784.6,38.3 L786.0,38.6 L787.2,39.1 L788.4,39.8 L789.4,40.7 L790.2,41.7 L791.0,42.9 L791.6,44.0 L792.2,45.4 L792.8,47.1 L793.2,48.4 L793.6,50.0 L794.0,51.8 L794.2,52.8 L794.4,53.9 L794.6,55.0 L794.8,56.3 L795.0,57.7 L795.2,59.2 L795.4,60.8 L795.6,62.6 L795.8,64.5 L796.0,66.6 L796.2,68.9 L796.4,71.4 L796.6,74.1 L796.8,77.0 L797.0,80.2 L797.2,83.6 L797.4,87.4 L797.6,91.4 L797.8,95.6 L798.0,100.1 L798.2,104.9 L798.6,114.7 L798.8,119.7 L799.0,124.4 L799.2,128.9 L799.4,132.8 L799.6,136.0 L799.8,138.4 L800.0,139.7 L800.2,140.0 L800.4,139.2 L800.6,137.3 L800.8,134.5 L801.0,130.8 L801.2,126.6 L801.4,121.9 L801.6,117.0 L802.0,107.0 L802.2,102.1 L802.4,97.4 L802.6,93.0 L802.8,88.8 L803.0,84.9 L803.2,81.3 L803.4,78.0 L803.6,74.9 L803.8,72.1 L804.0,69.5 L804.2,67.1 L804.4,64.9 L804.6,62.9 L804.8,61.0 L805.0,59.3 L805.2,57.8 L805.4,56.4 L805.6,55.0 L805.8,53.8 L806.0,52.7 L806.4,50.7 L806.8,49.0 L807.2,47.5 L807.6,46.3 L808.2,44.7 L808.8,43.4 L809.4,42.3 L810.2,41.2 L811.0,40.3 L812.0,39.5 L813.2,38.8 L814.4,38.4 L815.8,38.2 L817.2,38.3 L818.4,38.7 L819.6,39.3 L820.6,40.1 L821.4,40.9 L822.2,42.0 L822.8,43.0 L823.4,44.2 L824.0,45.8 L824.4,47.0 L824.8,48.4 L825.2,50.0 L825.6,51.9 L825.8,53.0 L826.0,54.2 L826.2,55.4 L826.4,56.8 L826.6,58.3 L826.8,59.9 L827.0,61.7 L827.2,63.6 L827.4,65.7 L827.6,68.0 L827.8,70.5 L828.0,73.2 L828.2,76.2 L828.4,79.5 L828.6,83.0 L828.8,86.8 L829.0,91.0 L829.2,95.4 L829.4,100.1 L829.6,105.1 L829.8,110.4 L830.2,121.2 L830.4,126.5 L830.6,131.6 L830.8,136.2 L831.0,140.1 L831.2,143.3 L831.4,145.3 L831.6,146.2 L831.8,145.9 L832.0,144.4 L832.2,141.8 L832.4,138.3 L832.6,134.0 L832.8,129.1 L833.0,123.9 L833.4,113.2 L833.6,107.9 L833.8,102.8 L834.0,98.0 L834.2,93.4 L834.4,89.2 L834.6,85.2 L834.8,81.5 L835.0,78.2 L835.2,75.1 L835.4,72.2 L835.6,69.6 L835.8,67.2 L836.0,65.0 L836.2,63.0 L836.4,61.2 L836.6,59.5 L836.8,57.9 L837.0,56.5 L837.2,55.1 L837.4,53.9 L837.6,52.8 L838.0,50.8 L838.4,49.1 L838.8,47.6 L839.2,46.3 L839.8,44.7 L840.4,43.4 L841.0,42.3 L841.8,41.2 L842.6,40.3 L843.6,39.5 L844.8,38.8 L846.0,38.4 L847.4,38.2 L848.8,38.3 L850.0,38.7 L851.2,39.3 L852.2,40.1 L853.0,40.9 L853.8,42.0 L854.4,43.0 L855.0,44.2 L855.6,45.8 L856.0,47.0 L856.4,48.3 L856.8,50.0 L857.2,51.8 L857.4,52.9 L857.6,54.0 L857.8,55.3 L858.0,56.6 L858.2,58.1 L858.4,59.6 L858.6,61.4 L858.8,63.3 L859.0,65.3 L859.2,67.6 L859.4,70.0 L859.6,72.7 L859.8,75.6 L860.0,78.7 L860.2,82.2 L860.4,85.9 L860.6,89.9 L860.8,94.2 L861.0,98.8 L861.2,103.7 L861.4,108.8 L861.8,119.3 L862.0,124.5 L862.2,129.4 L862.4,133.9 L862.6,137.8 L862.8,140.8 L863.0,142.9 L863.2,143.7 L863.4,143.4 L863.6,142.0 L863.8,139.4 L864.0,135.9 L864.2,131.7 L864.4,127.0 L864.6,121.9 L865.0,111.3 L865.2,106.1 L865.4,101.1 L865.6,96.3 L865.8,91.9 L866.0,87.7 L866.2,83.8 L866.4,80.2 L866.6,76.9 L866.8,73.8 L867.0,71.0 L867.2,68.5 L867.4,66.1 L867.6,64.0 L867.8,62.0 L868.0,60.2 L868.2,58.5 L868.4,57.0 L868.6,55.6 L868.8,54.3 L869.0,53.1 L869.2,52.0 L869.6,50.1 L870.0,48.4 L870.4,46.9 L870.8,45.7 L871.4,44.1 L872.0,42.8 L872.6,41.8 L873.4,40.7 L874.2,39.8 L875.2,39.0 L876.4,38.4 L877.6,38.0 L879.0,37.9 L880.4,38.1 L881.6,38.5 L882.6,39.1 L883.6,40.0 L884.4,40.9 L885.2,42.1 L885.8,43.2 L886.4,44.5 L886.8,45.6 L887.2,46.9 L887.6,48.3 L888.0,50.0 L888.4,52.0 L888.6,53.1 L888.8,54.3 L889.0,55.6 L889.2,57.0 L889.4,58.5 L889.6,60.2 L889.8,62.0 L890.0,64.0 L890.2,66.1 L890.4,68.5 L890.6,71.1 L890.8,73.9 L891.0,76.9 L891.2,80.3 L891.4,83.9 L891.6,87.8 L891.8,92.0 L892.0,96.5 L892.2,101.3 L892.4,106.3 L892.6,111.5 L893.0,122.0 L893.2,127.1 L893.4,131.8 L893.6,136.0 L893.8,139.5 L894.0,142.0 L894.2,143.4 L894.4,143.7 L894.6,142.9 L894.8,140.9 L895.0,137.8 L895.2,134.0 L895.4,129.5 L895.6,124.6 L895.8,119.4 L896.2,109.0 L896.4,103.9 L896.6,99.0 L896.8,94.4 L897.0,90.0 L897.2,86.0 L897.4,82.3 L897.6,78.8 L897.8,75.6 L898.0,72.7 L898.2,70.0 L898.4,67.5 L898.6,65.3 L898.8,63.2 L899.0,61.3 L899.2,59.5 L899.4,57.9 L899.6,56.5 L899.8,55.1 L900.0,53.8 L900.2,52.7 L900.4,51.6 L900.8,49.7 L901.2,48.1 L901.6,46.7 L902.0,45.5 L902.6,43.9 L903.2,42.7 L903.8,41.7 L904.6,40.6 L905.4,39.8 L906.4,39.0 L907.6,38.4 L909.0,38.0 L910.4,37.9 L911.8,38.1 L913.2,38.5 L914.4,39.2 L915.4,39.9 L916.4,41.0 L917.2,42.0 L917.8,43.0 L918.4,44.2 L919.0,45.7 L919.4,46.9 L919.8,48.2 L920.2,49.7 L920.6,51.5 L920.8,52.5 L921.0,53.6 L921.2,54.8 L921.4,56.1 L921.6,57.4 L921.8,58.9 L922.0,60.6 L922.2,62.3 L922.4,64.2 L922.6,66.3 L922.8,68.5 L923.0,71.0 L923.2,73.5 L923.4,76.3 L923.6,79.2 L923.8,82.3 L924.0,85.5 L924.6,95.3 L924.8,98.4 L925.0,101.2 L925.2,103.7 L925.4,105.2" fill="none" stroke="#f0a00c" stroke-width="3.5" stroke-linejoin="round" stroke-linecap="butt"/>
<path d="M139.2,615.8 L141.0,615.8 L141.2,615.6 L141.4,615.1 L141.6,614.3 L141.8,613.4 L142.0,612.3 L142.2,611.0 L142.8,606.9 L143.0,605.5 L143.2,604.0 L143.4,602.3 L143.6,600.4 L143.8,598.4 L144.0,596.2 L144.2,593.9 L144.4,591.4 L144.6,588.8 L144.8,586.2 L145.0,583.3 L145.2,580.1 L145.4,576.5 L145.6,572.6 L145.8,568.5 L146.2,560.1 L146.4,555.9 L147.6,532.2 L148.0,524.6 L148.8,509.8 L149.2,502.7 L149.4,499.2 L149.6,495.9 L149.8,492.6 L150.0,489.5 L150.2,486.6 L150.4,483.7 L150.8,478.2 L151.2,473.0 L151.6,468.0 L152.2,460.7 L153.4,446.4 L154.0,439.0 L154.6,431.3 L155.6,418.0 L156.8,402.0 L157.4,394.2 L158.0,386.6 L159.6,367.0 L160.2,359.9 L160.6,355.3 L161.0,350.9 L161.4,346.8 L161.8,342.8 L162.2,339.2 L162.8,334.2 L163.4,329.5 L164.0,325.0 L164.6,320.7 L165.4,315.3 L168.2,297.1 L169.4,289.6 L170.8,281.2 L172.8,269.5 L174.6,259.2 L176.4,249.3 L178.2,239.6 L181.2,223.9 L182.8,215.8 L184.0,210.0 L185.0,205.4 L186.4,199.2 L187.8,193.4 L189.2,187.8 L190.4,183.2 L191.6,178.9 L193.0,174.2 L194.4,169.7 L196.0,164.9 L197.6,160.4 L201.2,150.9 L203.0,146.3 L204.6,142.5 L206.0,139.5 L207.2,137.2 L208.4,135.1 L210.6,131.7 L212.8,128.5 L215.0,125.7 L217.2,123.2 L219.4,121.0 L221.6,119.0 L224.0,117.2 L226.4,115.7 L230.0,114.0 L232.4,113.0 L234.4,112.5 L238.0,112.0 L240.4,111.9 L243.2,112.1 L245.8,112.6 L248.4,113.4 L250.8,114.4 L253.0,115.6 L255.2,117.1 L257.4,118.9 L259.4,120.8 L261.4,123.0 L263.2,125.3 L265.0,127.8 L266.8,130.6 L268.4,133.4 L270.0,136.4 L271.6,139.8 L273.2,143.4 L274.6,146.8 L276.0,150.5 L277.4,154.5 L278.8,158.7 L280.2,163.3 L281.4,167.5 L282.6,171.9 L283.8,176.5 L285.0,181.5 L286.2,186.7 L287.4,192.2 L288.6,197.9 L289.8,204.0 L291.0,210.4 L292.2,217.1 L293.4,224.1 L294.6,231.4 L295.8,239.0 L297.0,246.9 L298.4,256.3 L300.0,267.4 L304.0,295.7 L305.2,303.9 L306.2,310.6 L307.2,317.0 L308.0,321.9 L308.8,326.4 L309.4,329.7 L310.0,332.7 L310.6,335.6 L311.2,338.2 L311.8,340.6 L312.4,342.7 L313.0,344.5 L313.6,346.1 L314.2,347.3 L314.8,348.3 L315.4,348.9 L316.0,349.2 L316.2,349.3 L316.4,349.2 L317.0,348.4 L317.6,347.3 L318.2,345.9 L318.8,344.1 L319.4,342.0 L320.0,339.6 L320.6,336.8 L321.2,333.8 L321.8,330.5 L322.4,326.8 L323.0,323.0 L323.6,318.9 L324.2,314.6 L325.0,308.5 L325.8,302.2 L326.8,294.0 L328.2,282.2 L330.6,261.7 L331.8,251.8 L332.8,243.7 L333.8,236.0 L334.6,230.0 L335.4,224.3 L336.2,218.8 L337.0,213.5 L337.8,208.5 L338.6,203.8 L339.4,199.3 L340.2,195.1 L341.0,191.1 L341.8,187.4 L342.6,183.9 L343.4,180.7 L344.2,177.7 L345.2,174.2 L346.2,171.0 L347.2,168.1 L348.2,165.6 L349.2,163.3 L350.2,161.2 L351.2,159.5 L352.2,157.9 L353.4,156.3 L354.6,155.1 L355.8,154.1 L357.0,153.4 L358.2,153.0 L359.4,152.8 L360.6,152.9 L361.8,153.3 L363.0,153.9 L364.0,154.8 L365.0,155.8 L366.0,157.1 L367.0,158.7 L368.0,160.6 L368.8,162.3 L369.6,164.3 L370.4,166.5 L371.2,169.0 L372.0,171.7 L372.8,174.8 L373.4,177.2 L374.0,179.9 L374.6,182.8 L375.2,185.8 L375.8,189.1 L376.4,192.6 L377.0,196.2 L377.6,200.1 L378.2,204.3 L378.8,208.6 L379.4,213.1 L380.0,217.8 L380.8,224.4 L381.6,231.3 L383.0,243.6 L384.2,254.2 L384.8,259.3 L385.4,264.2 L386.0,268.8 L386.4,271.6 L386.8,274.3 L387.2,276.7 L387.6,279.0 L388.0,280.9 L388.4,282.6 L388.8,284.0 L389.2,285.1 L389.6,285.8 L389.8,286.1 L390.0,286.3 L390.2,286.4 L390.4,286.4 L390.6,286.3 L390.8,286.2 L391.2,285.7 L391.6,284.8 L392.0,283.7 L392.4,282.2 L392.8,280.5 L393.2,278.5 L393.6,276.3 L394.0,273.9 L394.4,271.2 L394.8,268.4 L395.4,263.9 L396.0,259.1 L396.8,252.3 L398.0,241.8 L399.6,227.6 L400.6,219.0 L401.4,212.4 L402.2,206.0 L403.0,200.0 L403.8,194.2 L404.4,190.1 L405.0,186.2 L405.8,181.2 L406.6,176.6 L407.4,172.3 L408.2,168.2 L409.0,164.5 L409.8,161.0 L410.6,157.8 L411.4,154.8 L412.2,152.1 L413.0,149.6 L414.0,146.8 L415.0,144.3 L416.0,142.1 L417.0,140.2 L418.0,138.6 L419.0,137.2 L420.0,136.1 L421.0,135.3 L422.0,134.8 L423.0,134.5 L424.0,134.5 L425.0,134.7 L426.0,135.3 L427.0,136.1 L427.8,137.1 L428.6,138.2 L429.4,139.6 L430.2,141.2 L431.0,143.1 L431.8,145.2 L432.6,147.7 L433.2,149.7 L433.8,152.0 L434.4,154.4 L435.0,157.0 L435.6,159.9 L436.2,163.0 L436.8,166.3 L437.4,169.8 L438.0,173.6 L438.6,177.6 L439.2,181.9 L439.8,186.4 L440.4,191.1 L441.2,197.7 L442.2,206.2 L443.8,220.2 L444.4,225.3 L445.0,230.1 L445.4,233.2 L445.8,236.1 L446.2,238.8 L446.6,241.3 L447.0,243.4 L447.4,245.3 L447.6,246.2 L447.8,246.9 L448.0,247.6 L448.2,248.1 L448.4,248.6 L448.6,249.0 L448.8,249.3 L449.0,249.5 L449.2,249.6 L449.4,249.6 L449.6,249.6 L449.8,249.4 L450.0,249.1 L450.2,248.8 L450.4,248.3 L450.6,247.8 L450.8,247.2 L451.0,246.5 L451.2,245.7 L451.6,243.8 L452.0,241.7 L452.4,239.3 L452.8,236.7 L453.2,233.8 L453.6,230.8 L454.2,225.9 L454.8,220.8 L455.8,212.0 L457.2,199.5 L458.0,192.6 L458.8,185.9 L459.4,181.2 L460.0,176.6 L460.6,172.3 L461.2,168.1 L461.8,164.2 L462.4,160.6 L463.0,157.1 L463.6,153.9 L464.2,150.9 L464.8,148.0 L465.4,145.4 L466.2,142.2 L467.0,139.2 L467.8,136.6 L468.6,134.3 L469.4,132.2 L470.2,130.3 L471.0,128.7 L471.8,127.3 L472.8,125.9 L473.8,124.8 L474.8,123.9 L475.8,123.4 L476.8,123.2 L477.8,123.3 L478.8,123.8 L479.6,124.3 L480.4,125.1 L481.2,126.2 L482.0,127.5 L482.8,129.0 L483.6,130.8 L484.4,132.9 L485.0,134.7 L485.6,136.7 L486.2,138.9 L486.8,141.3 L487.4,144.0 L488.0,146.8 L488.6,149.9 L489.2,153.3 L489.8,156.9 L490.4,160.8 L491.0,164.9 L491.6,169.3 L492.2,173.9 L492.8,178.7 L493.6,185.4 L495.4,200.8 L496.0,205.8 L496.6,210.5 L497.0,213.5 L497.4,216.2 L497.8,218.7 L498.2,220.9 L498.4,221.9 L498.6,222.8 L498.8,223.6 L499.0,224.3 L499.2,224.9 L499.4,225.5 L499.6,225.9 L499.8,226.2 L500.0,226.5 L500.2,226.6 L500.4,226.6 L500.6,226.5 L500.8,226.3 L501.0,226.0 L501.2,225.6 L501.4,225.2 L501.6,224.6 L501.8,223.9 L502.0,223.1 L502.2,222.2 L502.4,221.3 L502.8,219.1 L503.2,216.7 L503.6,213.9 L504.0,211.0 L504.4,207.8 L505.0,202.9 L505.8,195.9 L507.4,181.7 L508.2,174.8 L508.8,169.8 L509.4,165.0 L510.0,160.5 L510.6,156.2 L511.2,152.1 L511.8,148.3 L512.4,144.8 L513.0,141.5 L513.6,138.4 L514.2,135.6 L514.8,133.0 L515.4,130.6 L516.0,128.3 L516.6,126.3 L517.4,123.9 L518.2,121.8 L519.0,120.0 L519.8,118.4 L520.6,117.1 L521.4,116.0 L522.2,115.2 L523.0,114.6 L523.8,114.3 L524.6,114.2 L525.4,114.3 L526.2,114.7 L527.0,115.4 L527.8,116.3 L528.6,117.5 L529.2,118.6 L529.8,119.9 L530.4,121.4 L531.0,123.1 L531.6,125.0 L532.2,127.2 L532.8,129.6 L533.4,132.2 L534.0,135.2 L534.6,138.4 L535.2,141.9 L535.8,145.7 L536.4,149.9 L537.0,154.3 L537.6,159.1 L538.2,164.1 L538.8,169.3 L540.0,180.1 L540.8,187.4 L541.4,192.6 L541.8,195.9 L542.2,198.9 L542.6,201.8 L542.8,203.1 L543.0,204.3 L543.2,205.4 L543.4,206.5 L543.6,207.4 L543.8,208.3 L544.0,209.0 L544.2,209.6 L544.4,210.1 L544.6,210.5 L544.8,210.8 L545.0,211.0 L545.2,211.0 L545.4,211.0 L545.6,210.8 L545.8,210.5 L546.0,210.0 L546.2,209.5 L546.4,208.9 L546.6,208.1 L546.8,207.3 L547.0,206.3 L547.2,205.3 L547.4,204.2 L547.8,201.7 L548.2,198.9 L548.6,195.8 L549.0,192.6 L549.6,187.5 L550.8,176.8 L551.8,168.0 L552.4,162.8 L553.0,157.9 L553.6,153.2 L554.2,148.8 L554.8,144.6 L555.4,140.7 L556.0,137.1 L556.6,133.7 L557.2,130.6 L557.8,127.8 L558.4,125.2 L559.0,122.8 L559.6,120.6 L560.2,118.7 L560.8,116.9 L561.6,114.9 L562.4,113.1 L563.2,111.6 L564.0,110.4 L564.8,109.5 L565.6,108.8 L566.4,108.4 L567.2,108.3 L568.0,108.4 L568.8,108.8 L569.6,109.4 L570.4,110.4 L571.0,111.3 L571.6,112.5 L572.2,113.8 L572.8,115.3 L573.4,117.1 L574.0,119.1 L574.6,121.3 L575.2,123.8 L575.8,126.6 L576.4,129.7 L577.0,133.2 L577.6,136.9 L578.2,141.0 L578.8,145.4 L579.4,150.1 L580.0,155.0 L580.6,160.2 L582.4,176.3 L583.0,181.4 L583.4,184.6 L583.8,187.6 L584.2,190.3 L584.4,191.6 L584.6,192.7 L584.8,193.8 L585.0,194.7 L585.2,195.6 L585.4,196.3 L585.6,196.9 L585.8,197.4 L586.0,197.8 L586.2,198.1 L586.4,198.2 L586.6,198.3 L586.8,198.2 L587.0,198.0 L587.2,197.6 L587.4,197.2 L587.6,196.6 L587.8,195.9 L588.0,195.1 L588.2,194.3 L588.4,193.3 L588.6,192.2 L589.0,189.8 L589.4,187.1 L589.8,184.2 L590.2,181.1 L590.8,176.2 L592.8,159.0 L593.4,154.1 L594.0,149.3 L594.6,144.8 L595.2,140.6 L595.8,136.6 L596.4,132.9 L597.0,129.5 L597.6,126.3 L598.2,123.4 L598.8,120.8 L599.4,118.4 L600.0,116.2 L600.6,114.2 L601.2,112.4 L601.8,110.8 L602.6,109.0 L603.4,107.4 L604.2,106.2 L605.0,105.2 L605.8,104.5 L606.6,104.1 L607.4,103.9 L608.2,104.0 L609.0,104.4 L609.8,105.1 L610.4,105.8 L611.0,106.8 L611.6,107.9 L612.2,109.2 L612.8,110.7 L613.4,112.5 L614.0,114.5 L614.6,116.8 L615.2,119.4 L615.8,122.2 L616.4,125.4 L617.0,129.0 L617.6,132.8 L618.2,137.0 L618.8,141.6 L619.4,146.4 L620.0,151.5 L620.8,158.6 L622.0,169.4 L622.6,174.5 L623.0,177.7 L623.4,180.7 L623.6,182.1 L623.8,183.3 L624.0,184.5 L624.2,185.7 L624.4,186.7 L624.6,187.6 L624.8,188.3 L625.0,189.0 L625.2,189.6 L625.4,190.0 L625.6,190.3 L625.8,190.4 L626.0,190.5 L626.2,190.4 L626.4,190.2 L626.6,189.8 L626.8,189.4 L627.0,188.8 L627.2,188.1 L627.4,187.3 L627.6,186.4 L627.8,185.3 L628.0,184.2 L628.2,183.0 L628.6,180.4 L629.0,177.5 L629.4,174.3 L630.0,169.4 L631.8,153.7 L632.4,148.7 L633.0,143.8 L633.6,139.2 L634.2,134.9 L634.8,130.9 L635.4,127.1 L636.0,123.7 L636.6,120.5 L637.2,117.7 L637.8,115.1 L638.4,112.7 L639.0,110.6 L639.6,108.7 L640.2,107.0 L640.8,105.5 L641.4,104.3 L642.0,103.2 L642.8,102.0 L643.6,101.1 L644.4,100.5 L645.2,100.2 L646.0,100.2 L646.8,100.5 L647.4,101.0 L648.0,101.6 L648.6,102.4 L649.2,103.5 L649.8,104.7 L650.4,106.2 L651.0,107.9 L651.6,109.9 L652.2,112.2 L652.8,114.8 L653.4,117.7 L654.0,120.9 L654.6,124.4 L655.2,128.4 L655.8,132.7 L656.4,137.3 L657.0,142.2 L657.6,147.4 L659.4,163.6 L659.8,167.1 L660.2,170.4 L660.6,173.4 L660.8,174.8 L661.0,176.2 L661.2,177.4 L661.4,178.6 L661.6,179.6 L661.8,180.6 L662.0,181.4 L662.2,182.1 L662.4,182.7 L662.6,183.1 L662.8,183.4 L663.0,183.6 L663.2,183.6 L663.4,183.5 L663.6,183.3 L663.8,183.0 L664.0,182.5 L664.2,181.9 L664.4,181.2 L664.6,180.4 L664.8,179.4 L665.0,178.4 L665.2,177.2 L665.4,176.0 L665.8,173.4 L666.2,170.4 L666.6,167.3 L667.2,162.3 L668.8,148.6 L669.4,143.6 L670.0,138.8 L670.6,134.3 L671.2,130.1 L671.8,126.1 L672.4,122.5 L673.0,119.2 L673.6,116.2 L674.2,113.4 L674.8,110.9 L675.4,108.7 L676.0,106.7 L676.6,104.9 L677.2,103.3 L677.8,102.0 L678.4,100.8 L679.0,99.8 L679.6,99.0 L680.4,98.3 L681.2,97.8 L681.8,97.7 L682.4,97.8 L683.0,98.0 L683.6,98.4 L684.2,99.1 L684.8,100.0 L685.4,101.1 L686.0,102.4 L686.6,104.1 L687.2,106.0 L687.8,108.2 L688.4,110.8 L688.8,112.7 L689.2,114.7 L689.6,117.0 L690.0,119.4 L690.4,122.0 L690.8,124.8 L691.2,127.7 L691.6,130.8 L692.2,135.8 L692.8,141.1 L693.6,148.5 L694.6,157.8 L695.0,161.4 L695.4,164.8 L695.8,168.0 L696.0,169.4 L696.2,170.8 L696.4,172.1 L696.6,173.2 L696.8,174.3 L697.0,175.2 L697.2,176.0 L697.4,176.7 L697.6,177.2 L697.8,177.6 L698.0,177.9 L698.2,178.0 L698.4,178.0 L698.6,177.9 L698.8,177.6 L699.0,177.1 L699.2,176.6 L699.4,175.9 L699.6,175.1 L699.8,174.2 L700.0,173.2 L700.2,172.1 L700.4,171.0 L700.8,168.3 L701.2,165.5 L701.6,162.4 L702.2,157.5 L703.8,144.1 L704.4,139.3 L705.0,134.7 L705.6,130.3 L706.2,126.2 L706.8,122.5 L707.4,119.0 L708.0,115.8 L708.6,113.0 L709.2,110.3 L709.8,108.0 L710.4,105.9 L711.0,104.0 L711.6,102.3 L712.2,100.8 L712.8,99.6 L713.4,98.5 L714.0,97.6 L714.8,96.7 L715.6,96.1 L716.4,95.8 L717.0,95.9 L717.6,96.0 L718.2,96.4 L718.8,97.0 L719.4,97.8 L720.0,98.9 L720.6,100.2 L721.2,101.7 L721.8,103.5 L722.4,105.7 L723.0,108.1 L723.6,110.9 L724.0,112.9 L724.4,115.2 L724.8,117.6 L725.2,120.1 L725.6,122.9 L726.0,125.8 L726.6,130.5 L727.2,135.5 L727.8,140.8 L729.2,153.5 L729.8,158.7 L730.2,161.9 L730.6,164.9 L730.8,166.3 L731.0,167.5 L731.2,168.7 L731.4,169.8 L731.6,170.7 L731.8,171.5 L732.0,172.2 L732.2,172.8 L732.4,173.2 L732.6,173.5 L732.8,173.6 L733.0,173.7 L733.2,173.5 L733.4,173.3 L733.6,172.9 L733.8,172.4 L734.0,171.7 L734.2,171.0 L734.4,170.1 L734.6,169.1 L734.8,168.0 L735.0,166.9 L735.4,164.3 L735.8,161.5 L736.2,158.4 L736.8,153.6 L738.4,140.4 L739.0,135.6 L739.6,131.1 L740.2,126.8 L740.8,122.8 L741.4,119.1 L742.0,115.7 L742.6,112.6 L743.2,109.8 L743.8,107.3 L744.4,105.0 L745.0,103.0 L745.6,101.2 L746.2,99.6 L746.8,98.2 L747.4,97.1 L748.0,96.1 L748.6,95.3 L749.2,94.7 L749.8,94.3 L750.4,94.1 L751.0,94.1 L751.6,94.3 L752.2,94.7 L752.8,95.3 L753.4,96.1 L754.0,97.2 L754.6,98.5 L755.2,100.2 L755.8,102.1 L756.4,104.4 L756.8,106.1 L757.2,107.9 L757.6,110.0 L758.0,112.2 L758.4,114.6 L758.8,117.2 L759.2,119.9 L759.6,122.9 L760.0,126.0 L760.6,131.0 L761.2,136.2 L762.8,151.0 L763.2,154.5 L763.6,157.9 L764.0,161.0 L764.2,162.4 L764.4,163.7 L764.6,165.0 L764.8,166.1 L765.0,167.1 L765.2,167.9 L765.4,168.7 L765.6,169.2 L765.8,169.7 L766.0,170.0 L766.2,170.2 L766.4,170.2 L766.6,170.0 L766.8,169.8 L767.0,169.4 L767.2,168.8 L767.4,168.2 L767.6,167.4 L767.8,166.5 L768.0,165.5 L768.2,164.3 L768.4,163.1 L768.8,160.5 L769.2,157.5 L769.8,152.8 L770.8,144.4 L771.6,137.7 L772.2,132.9 L772.8,128.3 L773.4,124.0 L774.0,120.0 L774.6,116.3 L775.2,112.9 L775.8,109.9 L776.4,107.1 L777.0,104.7 L777.6,102.5 L778.2,100.5 L778.8,98.8 L779.4,97.4 L780.0,96.1 L780.6,95.1 L781.2,94.2 L781.8,93.6 L782.4,93.1 L783.0,92.9 L783.6,92.8 L784.2,93.0 L784.8,93.4 L785.4,93.9 L786.0,94.8 L786.6,95.8 L787.2,97.2 L787.8,98.8 L788.4,100.7 L789.0,102.9 L789.6,105.5 L790.0,107.4 L790.4,109.5 L790.8,111.7 L791.2,114.2 L791.6,116.8 L792.0,119.6 L792.4,122.6 L793.0,127.3 L793.6,132.4 L794.4,139.5 L795.4,148.5 L795.8,151.9 L796.2,155.2 L796.6,158.2 L796.8,159.6 L797.0,160.9 L797.2,162.0 L797.4,163.1 L797.6,164.1 L797.8,164.9 L798.0,165.6 L798.2,166.2 L798.4,166.6 L798.6,166.9 L798.8,167.1 L799.0,167.1 L799.2,167.0 L799.4,166.8 L799.6,166.4 L799.8,165.9 L800.0,165.2 L800.2,164.5 L800.4,163.6 L800.6,162.7 L800.8,161.6 L801.0,160.4 L801.4,157.9 L801.8,155.1 L802.4,150.6 L803.4,142.6 L804.4,134.5 L805.0,129.9 L805.6,125.6 L806.2,121.5 L806.8,117.6 L807.4,114.1 L808.0,110.9 L808.6,108.0 L809.2,105.3 L809.8,103.0 L810.4,100.8 L811.0,99.0 L811.6,97.3 L812.2,95.9 L812.8,94.7 L813.4,93.7 L814.0,92.9 L814.6,92.3 L815.2,91.8 L815.8,91.6 L816.4,91.6 L817.0,91.8 L817.6,92.2 L818.2,92.9 L818.8,93.8 L819.4,95.0 L820.0,96.5 L820.6,98.3 L821.2,100.4 L821.6,102.0 L822.0,103.8 L822.4,105.7 L822.8,107.8 L823.2,110.2 L823.6,112.7 L824.0,115.4 L824.4,118.3 L824.8,121.3 L825.2,124.6 L825.8,129.8 L826.4,135.2 L827.6,146.4 L828.0,150.0 L828.4,153.4 L828.8,156.5 L829.0,158.0 L829.2,159.3 L829.4,160.5 L829.6,161.7 L829.8,162.7 L830.0,163.6 L830.2,164.3 L830.4,164.9 L830.6,165.4 L830.8,165.7 L831.0,165.9 L831.2,165.9 L831.4,165.8 L831.6,165.5 L831.8,165.1 L832.0,164.6 L832.2,163.9 L832.4,163.2 L832.6,162.3 L832.8,161.3 L833.0,160.2 L833.2,159.0 L833.6,156.4 L834.0,153.5 L834.6,148.9 L836.4,134.2 L837.0,129.5 L837.6,125.0 L838.2,120.9 L838.8,117.0 L839.4,113.4 L840.0,110.1 L840.6,107.1 L841.2,104.5 L841.8,102.0 L842.4,99.9 L843.0,98.0 L843.6,96.4 L844.2,95.0 L844.8,93.8 L845.4,92.8 L846.0,92.0 L846.6,91.4 L847.2,91.0 L847.8,90.9 L848.4,90.9 L849.0,91.2 L849.6,91.6 L850.2,92.4 L850.8,93.4 L851.4,94.7 L852.0,96.2 L852.6,98.1 L853.2,100.3 L853.6,102.0 L854.0,103.9 L854.4,105.9 L854.8,108.1 L855.2,110.5 L855.6,113.1 L856.0,115.9 L856.4,118.9 L856.8,122.0 L857.4,127.0 L858.0,132.3 L859.4,145.2 L859.8,148.7 L860.2,152.0 L860.6,155.1 L860.8,156.5 L861.0,157.9 L861.2,159.1 L861.4,160.2 L861.6,161.2 L861.8,162.0 L862.0,162.8 L862.2,163.4 L862.4,163.8 L862.6,164.1 L862.8,164.3 L863.0,164.3 L863.2,164.2 L863.4,164.0 L863.6,163.6 L863.8,163.1 L864.0,162.4 L864.2,161.7 L864.4,160.8 L864.6,159.9 L864.8,158.8 L865.2,156.4 L865.6,153.7 L866.0,150.8 L866.6,146.2 L868.2,133.4 L868.8,128.8 L869.4,124.4 L870.0,120.3 L870.6,116.4 L871.2,112.9 L871.8,109.6 L872.4,106.7 L873.0,104.0 L873.6,101.6 L874.2,99.5 L874.8,97.6 L875.4,95.9 L876.0,94.5 L876.6,93.2 L877.2,92.2 L877.8,91.4 L878.4,90.8 L879.0,90.5 L879.6,90.3 L880.2,90.3 L880.8,90.6 L881.4,91.1 L882.0,91.9 L882.6,93.0 L883.2,94.3 L883.8,96.0 L884.2,97.3 L884.6,98.8 L885.0,100.4 L885.4,102.2 L885.8,104.2 L886.2,106.4 L886.6,108.8 L887.0,111.4 L887.4,114.2 L887.8,117.2 L888.2,120.3 L888.6,123.7 L889.2,129.0 L890.0,136.5 L890.8,144.0 L891.2,147.6 L891.6,151.1 L892.0,154.3 L892.2,155.7 L892.4,157.1 L892.6,158.3 L892.8,159.5 L893.0,160.5 L893.2,161.4 L893.4,162.1 L893.6,162.7 L893.8,163.2 L894.0,163.5 L894.2,163.7 L894.4,163.7 L894.6,163.6 L894.8,163.3 L895.0,162.9 L895.2,162.4 L895.4,161.8 L895.6,161.0 L895.8,160.1 L896.0,159.2 L896.2,158.1 L896.6,155.7 L897.0,153.0 L897.4,150.1 L898.0,145.5 L899.6,132.7 L900.2,128.1 L900.8,123.7 L901.4,119.6 L902.0,115.7 L902.6,112.2 L903.2,109.0 L903.8,106.0 L904.4,103.4 L905.0,101.0 L905.6,98.9 L906.2,97.0 L906.8,95.3 L907.4,93.9 L908.0,92.7 L908.6,91.7 L909.2,90.9 L909.8,90.3 L910.4,90.0 L911.0,89.8 L911.6,89.8 L912.2,90.1 L912.8,90.6 L913.4,91.4 L914.0,92.3 L914.6,93.6 L915.2,95.1 L915.8,96.9 L916.4,99.0 L917.0,101.5 L917.4,103.4 L917.8,105.4 L918.2,107.6 L918.6,109.9 L919.0,112.5 L919.4,115.2 L919.8,118.1 L920.2,121.2 L920.8,126.1 L921.4,131.3 L922.8,143.9 L923.2,147.4 L923.6,150.6 L923.8,152.1 L924.0,153.5 L924.2,154.8 L924.4,156.0 L924.6,157.1 L924.8,158.1 L925.0,158.9 L925.2,159.6 L925.4,160.0" fill="none" stroke="#e2d80e" stroke-width="3.5" stroke-linejoin="round" stroke-linecap="butt"/>
<path d="M139.2,615.8 L141.0,615.8 L141.2,615.7 L141.4,615.3 L141.6,614.8 L141.8,614.1 L142.0,613.3 L142.4,611.4 L143.4,606.1 L143.8,604.1 L144.2,601.9 L144.6,599.5 L145.2,595.6 L145.8,591.4 L146.2,588.4 L146.6,585.1 L147.0,581.6 L147.6,576.0 L149.0,562.4 L150.4,549.2 L153.0,524.4 L154.0,514.4 L155.0,504.5 L155.6,498.8 L156.0,495.1 L156.4,491.7 L157.0,486.8 L157.6,482.2 L158.4,476.4 L159.4,469.5 L161.0,458.6 L161.8,452.9 L162.4,448.4 L163.2,442.2 L164.8,429.4 L166.0,419.9 L166.8,413.7 L167.8,406.3 L169.0,397.7 L170.2,389.4 L171.4,381.3 L172.6,373.5 L173.2,369.8 L173.8,366.4 L174.8,361.1 L175.8,356.1 L176.8,351.3 L178.0,345.9 L179.6,339.0 L181.2,332.3 L182.6,326.8 L184.6,319.3 L190.6,297.3 L196.0,277.9 L198.4,269.4 L200.2,263.3 L201.6,258.8 L204.6,249.6 L206.2,244.9 L207.6,241.1 L208.8,238.1 L210.0,235.4 L212.2,230.9 L214.2,227.1 L216.0,223.9 L217.6,221.3 L219.2,219.0 L220.8,217.0 L222.6,215.1 L224.6,213.3 L226.6,211.9 L229.8,209.9 L231.8,208.9 L233.4,208.4 L236.6,207.8 L238.6,207.6 L241.0,207.8 L243.4,208.2 L245.6,208.9 L247.8,209.9 L250.0,211.2 L252.0,212.6 L254.0,214.3 L256.0,216.4 L258.0,218.7 L259.8,221.1 L261.6,223.7 L263.4,226.7 L265.2,229.9 L267.0,233.4 L268.8,237.2 L270.6,241.4 L272.2,245.3 L273.8,249.6 L275.4,254.0 L277.0,258.8 L278.6,263.8 L280.2,269.1 L281.8,274.7 L283.6,281.2 L285.4,288.1 L287.2,295.2 L289.4,304.2 L292.2,316.1 L296.4,334.1 L298.4,342.4 L300.0,348.8 L301.4,354.1 L302.6,358.3 L303.6,361.7 L304.6,364.7 L305.6,367.5 L306.6,370.1 L307.6,372.3 L308.4,373.8 L309.2,375.1 L310.0,376.2 L310.8,377.0 L311.6,377.6 L312.4,378.0 L313.0,378.1 L313.2,378.0 L314.0,377.3 L314.8,376.4 L315.6,375.1 L316.4,373.7 L317.2,372.0 L318.0,370.1 L318.8,367.9 L319.8,364.9 L320.8,361.5 L321.8,357.9 L323.0,353.3 L324.2,348.3 L325.8,341.5 L330.0,322.9 L331.6,316.0 L333.0,310.3 L334.4,304.8 L335.6,300.4 L336.8,296.3 L338.0,292.5 L339.2,288.9 L340.4,285.7 L341.6,282.7 L342.8,280.0 L344.0,277.6 L345.2,275.5 L346.4,273.6 L347.6,271.9 L349.0,270.3 L350.4,269.1 L351.8,268.0 L353.2,267.3 L354.6,266.9 L356.0,266.7 L357.6,266.7 L359.0,267.1 L360.4,267.7 L361.8,268.6 L363.0,269.6 L364.2,270.9 L365.4,272.5 L366.6,274.3 L367.6,276.1 L368.6,278.2 L369.6,280.4 L370.6,282.9 L371.6,285.7 L372.6,288.6 L373.8,292.5 L375.0,296.7 L376.4,301.8 L379.4,313.2 L380.6,317.4 L381.4,320.1 L382.2,322.5 L382.8,324.1 L383.4,325.5 L384.0,326.7 L384.6,327.7 L385.2,328.4 L385.8,328.8 L386.4,329.0 L387.0,329.0 L387.6,328.6 L388.2,328.0 L388.8,327.1 L389.4,326.0 L390.0,324.7 L390.6,323.1 L391.2,321.3 L392.0,318.6 L392.8,315.6 L393.8,311.5 L394.8,307.2 L396.4,299.8 L399.2,286.8 L400.6,280.6 L401.8,275.5 L403.0,270.6 L404.2,266.1 L405.2,262.5 L406.2,259.2 L407.2,256.1 L408.2,253.3 L409.2,250.7 L410.2,248.3 L411.2,246.1 L412.2,244.1 L413.4,242.1 L414.6,240.4 L415.8,239.0 L417.0,237.9 L418.0,237.3 L419.2,236.8 L420.4,236.6 L421.6,236.7 L422.6,237.0 L423.6,237.6 L424.6,238.4 L425.6,239.5 L426.6,240.8 L427.6,242.4 L428.6,244.2 L429.6,246.3 L430.6,248.7 L431.6,251.3 L432.6,254.3 L433.6,257.4 L434.8,261.5 L436.2,266.7 L439.2,278.1 L440.2,281.7 L441.0,284.4 L441.8,286.8 L442.4,288.4 L443.0,289.7 L443.6,290.9 L444.2,291.7 L444.8,292.3 L445.4,292.6 L446.0,292.6 L446.6,292.2 L447.2,291.6 L447.8,290.6 L448.4,289.4 L449.0,287.8 L449.6,286.0 L450.2,284.0 L450.8,281.8 L451.6,278.6 L452.6,274.3 L454.0,267.8 L456.4,256.5 L457.6,251.1 L458.8,245.9 L459.8,241.9 L460.8,238.2 L461.8,234.7 L462.8,231.5 L463.8,228.6 L464.8,225.9 L465.8,223.6 L466.8,221.5 L467.8,219.7 L468.8,218.1 L469.8,216.8 L470.8,215.8 L471.8,215.0 L472.8,214.5 L473.8,214.2 L474.8,214.2 L475.8,214.4 L476.8,214.9 L477.8,215.6 L478.8,216.7 L479.8,218.0 L480.8,219.7 L481.8,221.6 L482.8,223.9 L483.8,226.4 L484.8,229.3 L485.8,232.5 L486.8,236.0 L488.0,240.5 L490.0,248.4 L491.4,253.9 L492.4,257.6 L493.2,260.2 L493.8,262.0 L494.4,263.5 L495.0,264.8 L495.6,265.7 L496.2,266.4 L496.8,266.7 L497.4,266.6 L498.0,266.2 L498.6,265.5 L499.2,264.4 L499.8,263.0 L500.4,261.3 L501.0,259.4 L501.6,257.2 L502.4,254.0 L503.4,249.6 L505.0,242.3 L506.8,233.9 L508.0,228.7 L509.0,224.5 L510.0,220.6 L511.0,217.1 L512.0,213.8 L513.0,210.9 L514.0,208.3 L515.0,206.0 L516.0,204.0 L517.0,202.4 L518.0,201.0 L519.0,199.9 L520.0,199.1 L521.0,198.5 L522.0,198.3 L523.0,198.3 L524.0,198.7 L525.0,199.3 L526.0,200.3 L527.0,201.6 L527.8,202.8 L528.6,204.3 L529.4,206.0 L530.2,208.0 L531.0,210.1 L531.8,212.6 L532.6,215.2 L533.6,218.7 L534.6,222.6 L536.0,228.3 L537.8,235.8 L538.6,238.9 L539.4,241.8 L540.0,243.7 L540.6,245.4 L541.2,246.7 L541.8,247.8 L542.2,248.2 L542.6,248.6 L543.0,248.7 L543.4,248.7 L543.8,248.5 L544.2,248.1 L544.6,247.5 L545.0,246.7 L545.6,245.3 L546.2,243.6 L546.8,241.5 L547.4,239.3 L548.2,235.9 L549.2,231.3 L551.8,219.0 L552.8,214.4 L553.8,210.1 L554.6,206.9 L555.4,204.0 L556.2,201.2 L557.0,198.7 L557.8,196.5 L558.6,194.5 L559.4,192.7 L560.2,191.1 L561.0,189.8 L561.8,188.7 L562.6,187.8 L563.4,187.2 L564.2,186.7 L565.0,186.5 L565.8,186.5 L566.6,186.6 L567.4,187.1 L568.2,187.7 L569.0,188.6 L569.8,189.7 L570.6,191.1 L571.4,192.7 L572.2,194.6 L573.0,196.7 L573.8,199.1 L574.6,201.7 L575.4,204.6 L576.4,208.6 L577.6,213.6 L579.6,222.3 L580.4,225.6 L581.0,227.9 L581.6,230.0 L582.2,231.8 L582.8,233.3 L583.2,234.1 L583.6,234.7 L584.0,235.1 L584.4,235.4 L584.8,235.4 L585.2,235.3 L585.6,235.0 L586.0,234.5 L586.4,233.8 L586.8,232.9 L587.4,231.2 L588.0,229.3 L588.6,227.1 L589.2,224.6 L590.0,221.1 L591.4,214.5 L593.0,207.0 L594.0,202.6 L595.0,198.4 L595.8,195.3 L596.6,192.5 L597.4,189.9 L598.2,187.5 L599.0,185.4 L599.8,183.6 L600.6,182.0 L601.4,180.7 L602.2,179.5 L603.0,178.7 L603.8,178.0 L604.6,177.6 L605.4,177.4 L606.2,177.5 L607.0,177.8 L607.8,178.3 L608.6,179.1 L609.4,180.2 L610.2,181.5 L611.0,183.1 L611.8,185.0 L612.6,187.2 L613.4,189.7 L614.2,192.5 L615.0,195.5 L616.0,199.6 L617.2,204.9 L618.8,212.1 L619.6,215.5 L620.2,217.8 L620.8,219.9 L621.4,221.7 L621.8,222.7 L622.2,223.5 L622.6,224.2 L623.0,224.6 L623.4,224.9 L623.8,224.9 L624.2,224.8 L624.6,224.4 L625.0,223.8 L625.4,223.1 L625.8,222.1 L626.4,220.4 L627.0,218.4 L627.6,216.1 L628.4,212.7 L629.6,207.3 L631.4,198.9 L632.4,194.5 L633.2,191.2 L634.0,188.1 L634.8,185.3 L635.6,182.7 L636.4,180.4 L637.2,178.4 L638.0,176.6 L638.8,175.0 L639.6,173.7 L640.4,172.7 L641.2,171.9 L642.0,171.3 L642.8,171.0 L643.6,170.9 L644.4,171.0 L645.2,171.4 L646.0,172.0 L646.8,172.9 L647.6,174.0 L648.4,175.3 L649.2,177.0 L650.0,178.9 L650.8,181.0 L651.6,183.5 L652.4,186.2 L653.2,189.1 L654.2,193.1 L655.6,199.0 L657.0,205.0 L657.8,208.2 L658.4,210.5 L659.0,212.5 L659.6,214.2 L660.0,215.2 L660.4,216.0 L660.8,216.6 L661.2,217.0 L661.6,217.2 L662.0,217.2 L662.4,217.1 L662.8,216.7 L663.2,216.1 L663.6,215.3 L664.0,214.4 L664.6,212.6 L665.2,210.6 L665.8,208.3 L666.6,204.9 L667.8,199.4 L669.4,192.0 L670.4,187.7 L671.2,184.4 L672.0,181.4 L672.8,178.6 L673.6,176.1 L674.4,173.9 L675.2,171.9 L676.0,170.3 L676.8,168.9 L677.6,167.8 L678.4,166.9 L679.2,166.3 L680.0,166.0 L680.8,165.9 L681.6,166.1 L682.4,166.5 L683.2,167.3 L684.0,168.3 L684.8,169.6 L685.6,171.3 L686.4,173.2 L687.2,175.5 L688.0,178.0 L688.8,180.9 L689.6,184.1 L690.6,188.3 L693.0,199.2 L693.8,202.6 L694.4,204.9 L695.0,207.0 L695.4,208.1 L695.8,209.1 L696.2,209.9 L696.6,210.5 L697.0,210.9 L697.4,211.0 L697.8,211.0 L698.2,210.7 L698.6,210.1 L699.0,209.4 L699.4,208.5 L699.8,207.4 L700.4,205.4 L701.0,203.2 L701.6,200.7 L702.6,196.1 L704.6,186.8 L705.6,182.3 L706.4,179.0 L707.2,176.0 L708.0,173.2 L708.8,170.7 L709.6,168.5 L710.4,166.6 L711.2,165.0 L712.0,163.7 L712.8,162.6 L713.6,161.9 L714.4,161.4 L715.2,161.2 L716.0,161.3 L716.8,161.7 L717.6,162.3 L718.4,163.3 L719.2,164.6 L719.8,165.8 L720.4,167.1 L721.0,168.7 L721.6,170.4 L722.2,172.3 L723.0,175.2 L723.8,178.3 L724.6,181.7 L725.8,187.2 L727.2,193.6 L728.0,197.0 L728.6,199.4 L729.2,201.4 L729.6,202.6 L730.0,203.6 L730.4,204.4 L730.8,204.9 L731.2,205.3 L731.6,205.4 L732.0,205.3 L732.4,205.0 L732.8,204.5 L733.2,203.7 L733.6,202.8 L734.0,201.7 L734.6,199.7 L735.2,197.4 L736.0,194.1 L737.2,188.6 L738.8,181.3 L739.8,177.0 L740.6,173.8 L741.4,170.8 L742.2,168.2 L743.0,165.8 L743.8,163.7 L744.6,161.9 L745.4,160.4 L746.2,159.2 L747.0,158.3 L747.8,157.6 L748.6,157.3 L749.4,157.2 L750.2,157.4 L751.0,157.9 L751.8,158.7 L752.6,159.8 L753.2,160.8 L753.8,162.0 L754.4,163.5 L755.0,165.0 L755.6,166.8 L756.2,168.8 L757.0,171.7 L757.8,174.9 L758.6,178.3 L760.0,184.7 L761.2,190.2 L762.0,193.6 L762.6,195.9 L763.2,197.9 L763.6,199.1 L764.0,200.0 L764.4,200.8 L764.8,201.3 L765.2,201.6 L765.6,201.7 L766.0,201.5 L766.4,201.2 L766.8,200.6 L767.2,199.8 L767.6,198.8 L768.0,197.7 L768.6,195.7 L769.2,193.4 L770.0,190.0 L771.6,182.8 L772.8,177.4 L773.8,173.2 L774.6,170.1 L775.4,167.3 L776.2,164.7 L777.0,162.5 L777.8,160.5 L778.6,158.8 L779.4,157.5 L780.2,156.4 L781.0,155.6 L781.8,155.2 L782.6,155.0 L783.4,155.1 L784.2,155.5 L784.8,156.1 L785.4,156.8 L786.0,157.7 L786.6,158.8 L787.2,160.1 L787.8,161.7 L788.4,163.4 L789.0,165.3 L789.6,167.4 L790.2,169.7 L791.0,173.1 L792.0,177.6 L794.0,187.1 L794.6,189.7 L795.2,192.2 L795.8,194.3 L796.2,195.5 L796.6,196.6 L797.0,197.4 L797.4,198.0 L797.8,198.4 L798.2,198.6 L798.6,198.5 L799.0,198.2 L799.4,197.7 L799.8,197.0 L800.2,196.0 L800.8,194.4 L801.4,192.3 L802.0,190.1 L802.8,186.8 L805.2,176.4 L806.2,172.3 L807.0,169.2 L807.8,166.4 L808.6,163.9 L809.4,161.6 L810.2,159.6 L811.0,157.9 L811.8,156.5 L812.6,155.4 L813.4,154.6 L814.2,154.0 L815.0,153.8 L815.8,153.8 L816.4,154.1 L817.0,154.5 L817.6,155.1 L818.2,155.9 L818.8,157.0 L819.4,158.2 L820.0,159.6 L820.6,161.3 L821.2,163.2 L821.8,165.3 L822.4,167.6 L823.2,171.0 L824.0,174.7 L826.2,185.3 L826.8,188.0 L827.4,190.5 L827.8,192.0 L828.2,193.3 L828.6,194.4 L829.0,195.3 L829.4,196.0 L829.8,196.5 L830.2,196.7 L830.6,196.7 L831.0,196.4 L831.4,196.0 L831.8,195.3 L832.2,194.4 L832.6,193.4 L833.2,191.6 L833.8,189.4 L834.6,186.3 L835.8,181.2 L837.4,174.3 L838.4,170.3 L839.2,167.3 L840.0,164.5 L840.8,162.0 L841.6,159.8 L842.4,157.8 L843.2,156.1 L844.0,154.7 L844.8,153.6 L845.6,152.7 L846.4,152.2 L847.2,151.9 L848.0,151.9 L848.6,152.2 L849.2,152.6 L849.8,153.3 L850.4,154.1 L851.0,155.2 L851.6,156.4 L852.2,157.9 L852.8,159.6 L853.4,161.6 L854.0,163.8 L854.6,166.1 L855.4,169.6 L856.2,173.3 L858.2,183.1 L858.8,185.8 L859.4,188.4 L859.8,189.9 L860.2,191.2 L860.6,192.4 L861.0,193.3 L861.4,194.1 L861.8,194.5 L862.2,194.8 L862.6,194.8 L863.0,194.6 L863.4,194.2 L863.8,193.5 L864.2,192.7 L864.6,191.6 L865.2,189.8 L865.8,187.7 L866.6,184.5 L867.8,179.4 L869.4,172.5 L870.4,168.5 L871.2,165.5 L872.0,162.8 L872.8,160.3 L873.6,158.0 L874.4,156.1 L875.2,154.5 L876.0,153.1 L876.8,152.0 L877.6,151.3 L878.4,150.8 L879.2,150.6 L879.8,150.7 L880.4,151.0 L881.0,151.4 L881.6,152.1 L882.2,152.9 L882.8,154.0 L883.4,155.3 L884.0,156.8 L884.6,158.5 L885.2,160.4 L885.8,162.6 L886.4,165.0 L887.2,168.4 L888.0,172.1 L890.2,182.8 L890.8,185.5 L891.4,188.0 L891.8,189.5 L892.2,190.8 L892.6,191.9 L893.0,192.9 L893.4,193.5 L893.8,194.0 L894.2,194.2 L894.6,194.2 L895.0,193.9 L895.4,193.4 L895.8,192.7 L896.2,191.8 L896.6,190.7 L897.2,188.8 L897.8,186.5 L898.6,183.3 L900.0,177.0 L901.2,171.7 L902.2,167.6 L903.0,164.5 L903.8,161.7 L904.6,159.1 L905.4,156.9 L906.2,155.0 L907.0,153.4 L907.8,152.1 L908.6,151.1 L909.4,150.4 L910.0,150.1 L910.6,150.0 L911.2,150.1 L911.8,150.3 L912.4,150.8 L913.0,151.4 L913.6,152.3 L914.2,153.3 L914.8,154.6 L915.4,156.0 L916.0,157.7 L916.6,159.6 L917.2,161.6 L917.8,163.9 L918.6,167.2 L919.4,170.9 L920.6,176.6 L921.8,182.5 L922.4,185.3 L923.0,187.9 L923.6,190.1 L924.0,191.4 L924.4,192.5 L924.8,193.4 L925.2,194.0 L925.4,194.2" fill="none" stroke="#66ee11" stroke-width="3.5" stroke-linejoin="round" stroke-linecap="butt"/>
<path d="M139.2,615.8 L141.0,615.8 L141.4,615.6 L141.8,615.2 L142.4,614.3 L143.2,612.9 L143.6,612.0 L144.2,610.4 L144.6,609.1 L145.0,607.7 L145.6,605.3 L146.6,600.8 L147.4,597.0 L148.2,592.9 L149.0,588.4 L149.8,583.7 L150.2,581.2 L150.6,578.6 L151.2,574.3 L152.8,562.4 L153.6,556.7 L155.2,545.6 L156.0,540.2 L156.8,535.1 L157.4,531.5 L158.0,528.2 L160.0,517.5 L160.6,514.1 L162.2,504.6 L164.4,492.0 L165.4,486.4 L166.2,482.2 L167.2,477.2 L168.4,471.5 L170.4,462.3 L172.4,453.4 L174.4,444.8 L177.8,430.6 L179.2,425.0 L180.2,421.2 L181.4,416.9 L183.0,411.5 L185.0,405.2 L189.0,392.8 L191.0,386.9 L192.8,381.8 L194.8,376.6 L197.0,371.1 L199.2,365.9 L201.2,361.5 L203.4,356.9 L205.8,352.2 L208.6,347.1 L212.0,341.2 L216.0,334.5 L217.6,332.0 L219.0,330.2 L221.2,327.6 L223.2,325.6 L225.0,324.0 L228.2,321.8 L230.4,320.4 L232.0,319.7 L235.4,318.8 L237.6,318.5 L239.8,318.5 L242.4,318.8 L244.8,319.4 L247.2,320.2 L249.4,321.3 L251.6,322.7 L253.8,324.3 L256.0,326.3 L258.2,328.5 L260.4,331.1 L262.6,334.0 L264.8,337.2 L267.0,340.7 L269.2,344.5 L271.4,348.6 L273.8,353.4 L276.4,358.9 L279.2,365.1 L283.0,373.9 L288.6,387.1 L291.4,393.4 L293.6,398.1 L295.4,401.6 L297.2,404.9 L298.8,407.6 L300.4,409.9 L301.8,411.7 L303.2,413.2 L304.6,414.5 L306.0,415.4 L307.4,416.1 L308.8,416.5 L309.8,416.5 L311.0,416.0 L312.4,415.1 L313.8,413.9 L315.2,412.4 L316.6,410.6 L318.2,408.4 L320.0,405.5 L322.2,401.6 L328.4,390.0 L330.6,386.2 L332.6,382.9 L334.4,380.3 L336.2,377.9 L338.0,375.9 L339.8,374.1 L341.6,372.7 L343.4,371.5 L345.2,370.7 L347.2,370.0 L349.2,369.6 L351.4,369.5 L353.8,369.7 L356.0,370.1 L358.0,370.8 L360.0,371.7 L362.0,373.0 L364.0,374.5 L366.4,376.6 L371.8,382.0 L373.6,383.5 L375.0,384.5 L376.2,385.0 L377.4,385.4 L378.6,385.4 L379.8,385.1 L381.0,384.5 L382.2,383.6 L383.4,382.4 L384.6,380.9 L385.8,379.2 L387.2,376.8 L388.8,373.9 L390.8,369.8 L396.4,357.9 L398.6,353.4 L400.4,350.1 L402.2,347.0 L403.8,344.5 L405.4,342.3 L407.0,340.3 L408.6,338.7 L410.0,337.5 L411.4,336.6 L413.0,335.9 L414.6,335.4 L416.2,335.2 L417.8,335.2 L419.6,335.6 L421.4,336.2 L423.2,337.2 L425.2,338.5 L427.4,340.3 L433.2,345.8 L435.0,347.2 L436.4,348.1 L437.6,348.6 L438.8,348.9 L439.8,348.9 L440.8,348.6 L441.8,348.1 L442.8,347.4 L443.8,346.4 L444.8,345.2 L446.0,343.3 L447.2,341.2 L448.6,338.5 L450.4,334.6 L454.4,325.6 L456.2,321.8 L457.8,318.7 L459.2,316.2 L460.6,314.0 L462.0,312.1 L463.4,310.5 L464.8,309.1 L466.2,308.1 L467.6,307.3 L469.0,306.8 L470.4,306.6 L471.8,306.7 L473.2,307.1 L474.6,307.7 L476.0,308.6 L477.6,309.9 L479.4,311.7 L481.6,314.3 L485.0,318.5 L486.6,320.2 L487.8,321.3 L488.8,321.9 L489.8,322.4 L490.8,322.5 L491.8,322.3 L492.8,321.9 L493.8,321.1 L494.8,320.0 L495.8,318.6 L496.8,316.9 L498.0,314.6 L499.6,311.3 L503.8,301.9 L505.4,298.5 L506.8,295.9 L508.2,293.5 L509.6,291.4 L511.0,289.6 L512.4,288.1 L513.8,287.0 L515.2,286.2 L516.6,285.7 L518.0,285.5 L519.4,285.5 L520.8,285.9 L522.2,286.5 L523.6,287.4 L525.2,288.7 L526.8,290.3 L528.8,292.6 L533.0,297.9 L534.4,299.4 L535.6,300.5 L536.6,301.1 L537.6,301.5 L538.6,301.6 L539.4,301.5 L540.2,301.1 L541.0,300.5 L541.8,299.6 L542.8,298.3 L543.8,296.6 L545.0,294.3 L546.4,291.3 L550.0,283.0 L551.6,279.6 L553.0,277.0 L554.2,275.0 L555.4,273.2 L556.6,271.8 L557.8,270.6 L559.0,269.7 L560.2,269.1 L561.4,268.8 L562.6,268.8 L563.8,269.0 L565.0,269.5 L566.2,270.3 L567.4,271.3 L568.8,272.8 L570.2,274.6 L572.0,277.1 L575.2,282.0 L576.6,283.8 L577.6,284.9 L578.6,285.7 L579.4,286.2 L580.2,286.4 L581.0,286.3 L581.8,286.0 L582.6,285.5 L583.4,284.7 L584.4,283.4 L585.4,281.8 L586.6,279.5 L588.2,276.1 L591.4,269.1 L593.0,265.9 L594.4,263.3 L595.6,261.4 L596.8,259.7 L598.0,258.3 L599.2,257.1 L600.4,256.3 L601.6,255.8 L602.8,255.5 L604.0,255.6 L605.2,256.0 L606.4,256.6 L607.6,257.6 L608.8,258.9 L610.0,260.5 L611.4,262.6 L613.6,266.4 L615.6,269.8 L616.8,271.6 L617.8,272.8 L618.6,273.5 L619.4,274.0 L620.2,274.2 L621.0,274.2 L621.8,273.8 L622.6,273.2 L623.4,272.4 L624.4,271.0 L625.4,269.3 L626.6,266.9 L629.0,261.8 L631.0,257.6 L632.4,254.9 L633.8,252.5 L635.0,250.7 L636.2,249.2 L637.4,247.9 L638.6,247.0 L639.8,246.3 L641.0,246.0 L642.2,245.9 L643.4,246.2 L644.6,246.8 L645.8,247.7 L647.0,248.9 L648.2,250.4 L649.6,252.4 L651.4,255.4 L653.8,259.5 L655.0,261.3 L656.0,262.6 L656.8,263.4 L657.6,263.9 L658.4,264.2 L659.2,264.2 L660.0,264.0 L660.8,263.4 L661.6,262.6 L662.4,261.5 L663.4,259.9 L664.6,257.6 L667.0,252.6 L668.8,248.9 L670.2,246.3 L671.4,244.3 L672.6,242.5 L673.8,241.1 L675.0,239.9 L676.2,239.1 L677.2,238.7 L678.2,238.5 L679.2,238.5 L680.2,238.7 L681.2,239.2 L682.2,239.9 L683.2,240.9 L684.4,242.3 L685.6,244.1 L687.0,246.4 L690.2,252.1 L691.4,254.0 L692.4,255.3 L693.2,256.0 L694.0,256.5 L694.8,256.7 L695.6,256.6 L696.4,256.2 L697.2,255.5 L698.0,254.6 L699.0,253.0 L700.2,250.9 L702.0,247.2 L704.2,242.7 L705.6,240.1 L706.8,238.0 L708.0,236.3 L709.2,234.8 L710.2,233.8 L711.2,233.1 L712.2,232.5 L713.2,232.3 L714.2,232.2 L715.2,232.4 L716.2,232.9 L717.2,233.6 L718.2,234.6 L719.2,235.8 L720.4,237.6 L721.6,239.7 L723.8,243.9 L725.4,246.9 L726.4,248.5 L727.2,249.6 L728.0,250.4 L728.8,251.0 L729.4,251.2 L730.0,251.2 L730.6,251.0 L731.4,250.5 L732.2,249.7 L733.0,248.6 L734.0,247.0 L735.2,244.8 L738.8,237.4 L740.2,234.8 L741.4,232.8 L742.6,231.1 L743.8,229.7 L744.8,228.7 L745.8,228.0 L746.8,227.5 L747.8,227.3 L748.8,227.3 L749.8,227.5 L750.8,228.0 L751.8,228.8 L752.8,229.9 L753.8,231.2 L755.0,233.0 L756.4,235.5 L759.2,240.9 L760.2,242.6 L761.0,243.8 L761.8,244.8 L762.6,245.5 L763.2,245.8 L763.8,245.9 L764.4,245.8 L765.0,245.6 L765.8,245.0 L766.6,244.1 L767.4,242.9 L768.4,241.2 L770.0,238.1 L772.4,233.4 L773.8,230.9 L775.0,229.0 L776.2,227.3 L777.2,226.2 L778.2,225.4 L779.2,224.7 L780.2,224.3 L781.2,224.1 L782.2,224.2 L783.2,224.5 L784.2,225.1 L785.2,225.8 L786.2,226.9 L787.4,228.4 L788.6,230.2 L790.2,233.0 L792.8,237.7 L793.8,239.3 L794.6,240.4 L795.4,241.3 L796.2,241.9 L796.8,242.1 L797.4,242.2 L798.0,242.0 L798.6,241.7 L799.4,241.0 L800.2,240.0 L801.2,238.4 L802.4,236.2 L805.6,229.8 L807.0,227.2 L808.2,225.3 L809.2,224.0 L810.2,222.9 L811.2,222.0 L812.2,221.4 L813.2,221.1 L814.2,221.0 L815.2,221.2 L816.2,221.6 L817.2,222.2 L818.2,223.1 L819.2,224.3 L820.4,225.9 L821.8,228.2 L824.0,232.1 L825.6,235.0 L826.6,236.5 L827.4,237.6 L828.2,238.4 L829.0,238.9 L829.6,239.0 L830.2,239.0 L830.8,238.8 L831.6,238.3 L832.4,237.4 L833.2,236.3 L834.2,234.7 L835.8,231.6 L838.0,227.3 L839.4,224.9 L840.6,223.0 L841.6,221.8 L842.6,220.8 L843.6,220.0 L844.6,219.4 L845.6,219.2 L846.6,219.2 L847.6,219.4 L848.6,219.9 L849.6,220.6 L850.6,221.6 L851.6,222.9 L852.8,224.7 L854.2,227.1 L857.2,232.7 L858.2,234.4 L859.0,235.5 L859.8,236.4 L860.6,237.1 L861.2,237.4 L861.8,237.4 L862.4,237.3 L863.2,236.9 L864.0,236.2 L864.8,235.2 L865.8,233.7 L867.2,231.2 L870.0,225.8 L871.4,223.4 L872.6,221.6 L873.8,220.0 L874.8,219.0 L875.8,218.2 L876.8,217.6 L877.8,217.3 L878.8,217.3 L879.8,217.5 L880.8,217.9 L881.8,218.7 L882.8,219.7 L883.8,221.0 L884.8,222.5 L886.0,224.6 L889.2,230.7 L890.2,232.4 L891.0,233.5 L891.8,234.4 L892.6,235.0 L893.2,235.3 L893.8,235.3 L894.4,235.2 L895.2,234.7 L896.0,234.0 L897.0,232.7 L898.2,230.8 L902.0,224.1 L903.4,221.9 L904.6,220.3 L905.8,218.9 L907.0,217.8 L908.0,217.2 L909.0,216.8 L910.0,216.6 L911.0,216.7 L912.0,217.1 L913.0,217.7 L914.0,218.5 L915.0,219.6 L916.0,221.0 L917.2,222.9 L918.4,225.1 L921.8,232.0 L922.8,233.8 L923.6,235.0 L924.4,235.9 L925.0,236.4 L925.4,236.6" fill="none" stroke="#0eeed8" stroke-width="3.5" stroke-linejoin="round" stroke-linecap="butt"/>
<path d="M139.2,615.8 L141.2,615.8 L141.8,615.4 L142.6,614.6 L143.8,613.0 L144.4,612.0 L145.2,610.4 L145.8,609.0 L146.4,607.3 L147.2,604.7 L148.6,599.9 L149.6,596.2 L151.0,590.7 L153.4,581.0 L157.2,565.7 L164.2,537.2 L167.4,524.5 L168.4,520.7 L169.6,516.5 L171.6,509.9 L174.8,499.6 L178.4,488.3 L183.0,474.1 L184.8,468.8 L186.6,463.9 L188.8,458.1 L191.4,451.7 L194.6,444.1 L197.2,438.2 L199.6,433.0 L203.8,424.5 L206.2,419.9 L208.2,416.4 L209.8,413.7 L211.6,411.1 L214.0,407.9 L216.4,405.1 L218.8,402.5 L221.4,399.9 L224.0,397.7 L226.2,396.0 L228.8,394.5 L231.2,393.3 L233.0,392.6 L236.6,391.9 L238.8,391.6 L241.6,391.7 L244.4,392.1 L247.0,392.8 L249.6,393.7 L252.2,394.9 L254.8,396.4 L257.4,398.2 L260.0,400.3 L262.6,402.7 L265.4,405.6 L268.4,409.0 L271.8,413.2 L276.0,418.7 L284.0,429.5 L287.4,433.8 L290.2,437.1 L292.6,439.6 L294.8,441.6 L297.0,443.3 L299.0,444.6 L301.0,445.6 L303.0,446.3 L305.0,446.7 L306.6,446.7 L308.6,446.1 L310.8,445.2 L313.2,443.8 L315.8,441.9 L319.2,439.2 L326.4,433.1 L329.6,430.7 L332.4,428.8 L335.0,427.3 L337.6,426.2 L340.2,425.3 L343.0,424.7 L346.0,424.3 L349.8,424.2 L354.0,424.3 L357.2,424.7 L360.8,425.5 L365.2,426.5 L367.2,426.7 L369.0,426.7 L370.6,426.4 L372.4,425.7 L374.0,424.9 L375.6,423.7 L377.4,422.2 L379.2,420.3 L381.4,417.7 L384.4,413.8 L389.4,407.2 L392.0,403.9 L394.2,401.5 L396.2,399.6 L398.2,397.9 L400.0,396.7 L402.0,395.7 L404.4,394.8 L407.0,394.1 L409.8,393.7 L413.0,393.5 L416.6,393.7 L421.4,394.3 L427.6,395.2 L430.4,395.4 L432.6,395.3 L434.6,394.9 L436.4,394.2 L438.0,393.3 L439.4,392.3 L440.8,391.0 L442.2,389.4 L443.8,387.4 L445.8,384.4 L450.8,376.5 L452.8,373.6 L454.6,371.3 L456.2,369.6 L457.8,368.1 L459.4,366.9 L461.2,365.8 L463.0,365.1 L465.0,364.5 L467.2,364.3 L469.6,364.3 L472.2,364.6 L475.6,365.4 L480.8,366.9 L483.2,367.3 L485.0,367.3 L486.6,367.1 L488.2,366.6 L489.6,365.9 L491.0,364.9 L492.4,363.6 L493.8,362.1 L495.4,360.0 L497.6,356.9 L501.6,351.0 L503.6,348.3 L505.4,346.1 L507.0,344.5 L508.6,343.1 L510.2,342.0 L511.8,341.2 L513.4,340.7 L515.2,340.4 L517.0,340.4 L519.0,340.7 L521.2,341.4 L524.4,342.8 L527.8,344.2 L529.8,344.8 L531.4,345.0 L532.8,345.0 L534.2,344.6 L535.6,344.0 L537.0,343.0 L538.4,341.7 L540.0,339.9 L542.0,337.4 L546.2,331.7 L548.2,329.2 L550.0,327.3 L551.6,325.9 L553.2,324.7 L554.8,323.9 L556.4,323.3 L558.2,322.9 L560.0,322.8 L562.0,323.0 L564.2,323.5 L566.8,324.5 L572.4,326.9 L574.4,327.5 L576.0,327.8 L577.4,327.7 L578.8,327.4 L580.0,326.9 L581.2,326.1 L582.6,324.9 L584.0,323.4 L586.0,320.9 L589.6,316.1 L591.4,314.0 L593.0,312.4 L594.4,311.2 L595.8,310.3 L597.2,309.6 L598.8,309.1 L600.4,308.9 L602.0,309.0 L603.8,309.4 L605.8,310.2 L608.4,311.5 L612.4,313.8 L614.2,314.6 L615.6,314.9 L617.0,315.0 L618.2,314.8 L619.4,314.3 L620.6,313.6 L621.8,312.5 L623.2,311.0 L625.0,308.8 L628.8,303.8 L630.6,301.7 L632.2,300.1 L633.6,298.9 L635.0,298.1 L636.4,297.5 L638.0,297.1 L639.6,297.0 L641.2,297.2 L643.0,297.7 L645.0,298.5 L648.0,300.2 L651.2,302.0 L653.0,302.8 L654.4,303.2 L655.8,303.3 L657.0,303.1 L658.2,302.7 L659.4,302.0 L660.8,300.8 L662.4,299.2 L667.0,293.7 L668.8,291.8 L670.4,290.5 L671.8,289.6 L673.2,288.9 L674.8,288.4 L676.4,288.3 L678.0,288.4 L679.8,288.8 L681.8,289.6 L684.2,290.9 L688.4,293.4 L690.2,294.3 L691.6,294.7 L692.8,294.8 L694.0,294.7 L695.2,294.2 L696.4,293.5 L697.6,292.5 L699.2,290.9 L703.8,285.6 L705.4,283.9 L706.8,282.8 L708.2,281.8 L709.6,281.2 L711.0,280.9 L712.4,280.8 L713.8,281.0 L715.4,281.5 L717.0,282.4 L719.0,283.7 L722.8,286.6 L724.4,287.5 L725.8,288.1 L727.0,288.3 L728.2,288.1 L729.4,287.7 L730.6,287.1 L732.0,286.0 L733.8,284.3 L738.4,279.5 L740.2,277.8 L741.8,276.6 L743.4,275.7 L744.8,275.1 L746.2,274.8 L747.6,274.8 L749.0,275.0 L750.6,275.5 L752.2,276.4 L754.2,277.8 L758.2,280.9 L759.8,281.9 L761.0,282.4 L762.2,282.6 L763.4,282.6 L764.6,282.2 L765.8,281.5 L767.2,280.3 L769.0,278.5 L772.2,275.1 L773.8,273.6 L775.2,272.5 L776.6,271.7 L778.0,271.1 L779.4,270.9 L780.8,270.8 L782.4,271.1 L784.0,271.7 L785.8,272.7 L788.2,274.3 L791.4,276.6 L793.0,277.6 L794.4,278.1 L795.6,278.3 L796.8,278.2 L798.0,277.7 L799.2,277.0 L800.6,275.8 L802.6,273.7 L805.4,270.7 L807.0,269.2 L808.4,268.1 L809.8,267.4 L811.2,266.9 L812.6,266.8 L814.0,266.9 L815.6,267.3 L817.2,268.0 L819.0,269.1 L821.6,271.1 L824.6,273.4 L826.2,274.4 L827.6,275.0 L828.8,275.2 L830.0,275.1 L831.0,274.8 L832.2,274.1 L833.4,273.1 L835.0,271.6 L838.4,267.9 L840.0,266.5 L841.4,265.5 L842.8,264.8 L844.2,264.4 L845.6,264.3 L847.0,264.5 L848.4,264.9 L850.0,265.7 L851.8,266.9 L854.4,269.0 L857.2,271.3 L858.8,272.4 L860.0,273.0 L861.2,273.3 L862.2,273.3 L863.2,273.1 L864.4,272.5 L865.6,271.6 L867.2,270.1 L871.2,265.9 L872.8,264.5 L874.2,263.5 L875.6,262.8 L877.0,262.4 L878.4,262.3 L879.8,262.5 L881.2,263.1 L882.6,263.9 L884.2,265.2 L886.4,267.2 L889.0,269.7 L890.4,270.9 L891.6,271.6 L892.6,271.9 L893.6,272.1 L894.6,272.0 L895.6,271.6 L896.8,270.9 L898.2,269.8 L900.2,267.8 L903.2,264.7 L905.0,263.1 L906.4,262.1 L907.8,261.4 L909.2,261.0 L910.4,260.9 L911.6,261.0 L912.8,261.5 L914.2,262.2 L915.6,263.3 L917.2,264.9 L921.4,269.6 L922.8,270.9 L924.0,271.8 L925.0,272.2 L925.4,272.3" fill="none" stroke="#0e5cee" stroke-width="3.5" stroke-linejoin="round" stroke-linecap="butt"/>
<path d="M139.2,615.8 L141.2,615.8 L142.2,615.4 L143.0,615.0 L143.8,614.3 L145.0,612.9 L145.8,611.7 L146.8,610.0 L148.2,607.3 L149.0,605.5 L150.4,602.0 L152.0,597.8 L154.0,592.2 L157.6,581.8 L159.6,575.7 L163.6,563.3 L168.6,548.4 L171.6,539.8 L174.0,533.1 L176.0,527.9 L178.8,520.9 L183.0,510.6 L185.0,506.0 L187.2,501.2 L190.0,495.4 L196.8,482.0 L198.8,478.2 L200.4,475.5 L203.0,471.4 L205.6,467.7 L208.2,464.2 L211.0,460.8 L214.0,457.5 L217.4,454.1 L221.6,450.2 L224.8,447.4 L226.8,445.9 L230.2,444.0 L232.2,443.0 L234.0,442.5 L237.4,441.8 L239.6,441.7 L243.4,441.9 L247.0,442.3 L250.4,443.0 L253.8,444.1 L257.0,445.4 L260.4,447.0 L264.0,449.1 L267.8,451.6 L272.8,455.3 L281.4,461.9 L285.2,464.6 L288.4,466.5 L291.4,468.1 L294.2,469.2 L296.8,470.0 L299.4,470.5 L302.2,470.7 L303.2,470.7 L305.8,470.2 L308.6,469.3 L311.6,468.0 L316.8,465.4 L321.2,463.2 L324.4,461.9 L327.4,460.9 L330.4,460.3 L333.8,460.0 L338.8,459.8 L343.2,459.7 L347.2,459.3 L351.8,458.4 L361.4,456.2 L368.2,454.4 L371.8,453.2 L374.6,452.0 L377.2,450.6 L380.0,448.8 L383.4,446.2 L391.6,439.5 L394.8,437.2 L397.6,435.4 L400.2,434.1 L403.6,432.7 L407.4,431.5 L413.0,430.0 L420.0,428.4 L424.0,427.1 L427.6,425.7 L430.8,424.2 L433.8,422.5 L437.2,420.2 L441.8,416.8 L448.8,411.4 L452.6,408.8 L455.8,406.8 L458.8,405.3 L461.8,404.0 L465.0,403.0 L468.6,402.2 L476.6,400.9 L479.6,400.1 L482.2,399.2 L484.6,398.0 L487.0,396.6 L489.8,394.6 L493.8,391.4 L498.8,387.2 L501.8,385.0 L504.4,383.4 L507.0,382.0 L509.4,381.0 L512.0,380.3 L514.8,379.8 L519.2,379.5 L523.4,379.1 L526.2,378.6 L528.6,377.9 L531.0,376.9 L533.6,375.5 L536.8,373.5 L546.6,366.6 L550.0,364.5 L552.8,363.0 L555.2,362.0 L557.6,361.3 L560.0,361.0 L562.6,360.9 L566.4,361.2 L569.8,361.4 L572.0,361.4 L573.8,361.0 L575.6,360.5 L577.4,359.6 L579.2,358.4 L581.4,356.6 L586.8,351.7 L589.0,350.0 L591.0,348.8 L592.8,347.9 L594.8,347.3 L597.0,346.9 L599.4,346.8 L602.2,347.0 L606.2,347.7 L610.4,348.5 L612.8,348.7 L614.6,348.5 L616.2,348.2 L617.6,347.6 L619.0,346.8 L620.4,345.7 L622.2,344.0 L626.6,339.2 L628.4,337.5 L630.0,336.3 L631.6,335.4 L633.2,334.8 L635.0,334.4 L637.0,334.3 L639.4,334.5 L642.6,335.1 L648.4,336.5 L650.8,336.8 L652.8,336.8 L654.6,336.5 L656.2,336.0 L657.6,335.2 L659.2,334.1 L661.2,332.3 L665.0,328.6 L666.8,327.1 L668.4,326.0 L670.0,325.2 L671.6,324.7 L673.4,324.4 L675.4,324.4 L677.8,324.8 L681.0,325.6 L685.8,327.0 L688.0,327.4 L689.8,327.5 L691.4,327.3 L693.0,326.8 L694.6,326.0 L696.2,324.9 L698.4,323.1 L701.8,320.0 L703.6,318.7 L705.2,317.7 L706.8,317.1 L708.4,316.7 L710.2,316.5 L712.2,316.7 L714.6,317.2 L718.2,318.4 L722.0,319.7 L724.2,320.1 L726.0,320.3 L727.6,320.1 L729.0,319.7 L730.6,318.9 L732.2,317.9 L734.6,315.9 L737.8,313.2 L739.6,312.0 L741.2,311.1 L742.8,310.5 L744.4,310.2 L746.2,310.2 L748.0,310.5 L750.2,311.1 L754.0,312.7 L756.6,313.8 L758.4,314.3 L760.0,314.4 L761.4,314.3 L762.8,313.9 L764.2,313.2 L765.8,312.2 L768.0,310.4 L771.4,307.5 L773.2,306.2 L774.8,305.4 L776.4,304.8 L778.0,304.5 L779.6,304.5 L781.4,304.8 L783.6,305.4 L789.8,308.0 L791.8,308.6 L793.6,308.8 L795.2,308.7 L796.8,308.3 L798.4,307.7 L800.4,306.5 L805.0,303.5 L807.0,302.5 L808.8,301.8 L810.6,301.4 L812.4,301.3 L814.4,301.5 L816.8,302.0 L820.4,303.2 L824.0,304.5 L826.2,304.9 L828.0,305.1 L829.6,304.9 L831.2,304.5 L833.0,303.7 L835.4,302.4 L839.2,300.1 L841.2,299.1 L843.0,298.5 L844.6,298.3 L846.2,298.2 L848.0,298.5 L850.0,299.2 L852.6,300.4 L856.0,302.1 L857.8,302.8 L859.4,303.1 L861.0,303.2 L862.6,302.9 L864.4,302.3 L866.6,301.2 L871.6,298.3 L873.8,297.2 L875.6,296.7 L877.4,296.4 L879.0,296.4 L880.6,296.7 L882.4,297.3 L884.6,298.4 L888.6,300.7 L890.4,301.5 L892.0,301.9 L893.4,302.0 L895.0,301.7 L896.6,301.2 L898.6,300.3 L904.4,296.9 L906.4,295.9 L908.2,295.4 L909.8,295.1 L911.2,295.2 L912.8,295.5 L914.4,296.2 L916.2,297.2 L919.0,299.2 L921.6,301.0 L923.2,301.9 L924.6,302.4 L925.4,302.6" fill="none" stroke="#bb0eee" stroke-width="3.5" stroke-linejoin="round" stroke-linecap="butt"/>
<line x1="139.6" y1="29.9" x2="926.4" y2="29.9" stroke="#808080" stroke-width="3.5" stroke-dasharray="17.9 11.05"/>
<path d="M102.3,0 V645.2 H965" fill="none" stroke="#000" stroke-width="2.2" stroke-linejoin="miter"/>
<line x1="141.1" y1="645.2" x2="141.1" y2="653.8" stroke="#000" stroke-width="2.3"/>
<line x1="239.3" y1="645.2" x2="239.3" y2="653.8" stroke="#000" stroke-width="2.3"/>
<line x1="337.4" y1="645.2" x2="337.4" y2="653.8" stroke="#000" stroke-width="2.3"/>
<line x1="435.6" y1="645.2" x2="435.6" y2="653.8" stroke="#000" stroke-width="2.3"/>
<line x1="533.8" y1="645.2" x2="533.8" y2="653.8" stroke="#000" stroke-width="2.3"/>
<line x1="632.0" y1="645.2" x2="632.0" y2="653.8" stroke="#000" stroke-width="2.3"/>
<line x1="730.1" y1="645.2" x2="730.1" y2="653.8" stroke="#000" stroke-width="2.3"/>
<line x1="828.3" y1="645.2" x2="828.3" y2="653.8" stroke="#000" stroke-width="2.3"/>
<line x1="926.5" y1="645.2" x2="926.5" y2="653.8" stroke="#000" stroke-width="2.3"/>
<line x1="93.4" y1="615.8" x2="102.3" y2="615.8" stroke="#000" stroke-width="2.3"/>
<text x="66.7" y="627.0" font-family="Liberation Serif, serif" stroke="#fff" stroke-width="0.45" font-size="36" textLength="16.0" lengthAdjust="spacingAndGlyphs">0</text>
<line x1="93.4" y1="491.1" x2="102.3" y2="491.1" stroke="#000" stroke-width="2.3"/>
<text x="50.7" y="501.6" font-family="Liberation Serif, serif" stroke="#fff" stroke-width="0.45" font-size="36" textLength="32.0" lengthAdjust="spacingAndGlyphs">20</text>
<line x1="93.4" y1="366.5" x2="102.3" y2="366.5" stroke="#000" stroke-width="2.3"/>
<text x="50.7" y="376.2" font-family="Liberation Serif, serif" stroke="#fff" stroke-width="0.45" font-size="36" textLength="32.0" lengthAdjust="spacingAndGlyphs">40</text>
<line x1="93.4" y1="241.8" x2="102.3" y2="241.8" stroke="#000" stroke-width="2.3"/>
<text x="50.7" y="250.4" font-family="Liberation Serif, serif" stroke="#fff" stroke-width="0.45" font-size="36" textLength="32.0" lengthAdjust="spacingAndGlyphs">60</text>
<line x1="93.4" y1="117.3" x2="102.3" y2="117.3" stroke="#000" stroke-width="2.3"/>
<text x="50.7" y="125.0" font-family="Liberation Serif, serif" stroke="#fff" stroke-width="0.45" font-size="36" textLength="32.0" lengthAdjust="spacingAndGlyphs">80</text>
<text x="133.9" y="687.9" font-family="Liberation Serif, serif" stroke="#fff" stroke-width="0.45" font-size="34" textLength="16" lengthAdjust="spacingAndGlyphs">0</text>
<text x="508.6" y="688.4" font-family="Liberation Serif, serif" stroke="#fff" stroke-width="0.45" font-size="34" font-style="italic" textLength="17.5" lengthAdjust="spacingAndGlyphs">π</text>
<line x1="530.0" y1="696.3" x2="541.3" y2="664.0" stroke="#000" stroke-width="1.5"/>
<text x="544.0" y="688.4" font-family="Liberation Serif, serif" stroke="#fff" stroke-width="0.45" font-size="34" textLength="15.4" lengthAdjust="spacingAndGlyphs">4</text>
<text x="903.7" y="688.4" font-family="Liberation Serif, serif" stroke="#fff" stroke-width="0.45" font-size="34" font-style="italic" textLength="17.5" lengthAdjust="spacingAndGlyphs">π</text>
<line x1="925.1" y1="696.3" x2="936.4" y2="664.0" stroke="#000" stroke-width="1.5"/>
<text x="939.1" y="688.4" font-family="Liberation Serif, serif" stroke="#fff" stroke-width="0.45" font-size="34" textLength="15.4" lengthAdjust="spacingAndGlyphs">2</text>
<g fill="none" stroke="#000" stroke-linecap="round" stroke-linejoin="round"><path d="M520.0,742 L524.1,726.1 L527.0,712.5 C528.4,706 532,701.5 536.9,701.5 C541,701.5 543.5,703.6 543.3,706.7 C543.1,710.5 540.5,713.3 537.0,714.2 L532.6,714.6" stroke-width="1.4"/><path d="M541.6,702.9 C543,704 543.5,705.2 543.3,706.9 C543.1,709.6 541.6,711.8 539.6,713.1" stroke-width="2.5"/><path d="M534.5,714.3 C539.5,714.6 541.6,717.5 541.4,720.8 C541.2,726.5 536.5,732.5 530.5,732.5 C527.5,732.5 525.3,731 524.3,728.2" stroke-width="1.4"/><path d="M540.2,716.8 C541.3,718 541.5,719.3 541.4,720.8 C541.2,724 539.5,727.5 537,729.8" stroke-width="2.7"/></g>
<text transform="translate(27.9,502.3) rotate(-90)" font-family="Liberation Serif, serif" stroke="#fff" stroke-width="0.45" font-size="36.5" textLength="332" lengthAdjust="spacingAndGlyphs">Fisher Information</text>
<text x="936.6" y="42.9" font-family="Liberation Serif, serif" stroke="#fff" stroke-width="0.45" font-size="37">QFI</text>
<rect x="480.4" y="489.7" width="461.5" height="124.1" fill="#fff" stroke="#000" stroke-width="3.6"/>
<rect x="490.9" y="509.7" width="43.1" height="10.9" fill="#ef4208"/>
<g transform="translate(558.1,523.0)" fill="none" stroke="#000" stroke-linecap="round" stroke-linejoin="round"><path d="M0.2,-8.6 C1.6,-12.2 3.6,-13.5 5.6,-13.5 C9.2,-13.5 10.9,-8.2 10.9,-2.6" stroke-width="1.6"/><path d="M10.9,-2.6 C10.7,0.5 9.4,3.5 8.9,5.2" stroke-width="1.4"/><path d="M15.3,-13.2 C13.4,-8.5 10.6,-1.5 8.7,5.2" stroke-width="1.0"/><path d="M23.0,-18.6 L19.5,-3.6 C18.9,-1.0 20.0,-0.3 21.3,-0.4 C23.1,-0.6 24.5,-2.6 25.2,-4.5" stroke-width="1.7"/><path d="M17.6,-12.6 L25.9,-12.6" stroke-width="1.0"/></g>
<line x1="594.6" y1="512.7" x2="614.0" y2="512.7" stroke="#000" stroke-width="1.2"/>
<line x1="594.6" y1="518.2" x2="614.0" y2="518.2" stroke="#000" stroke-width="1.2"/>
<text x="620.4" y="523.6" font-family="Liberation Serif, serif" stroke="#fff" stroke-width="0.45" font-size="26.7">0.00001</text>
<rect x="490.9" y="536.0" width="43.1" height="10.9" fill="#f0a00c"/>
<g transform="translate(558.1,549.5)" fill="none" stroke="#000" stroke-linecap="round" stroke-linejoin="round"><path d="M0.2,-8.6 C1.6,-12.2 3.6,-13.5 5.6,-13.5 C9.2,-13.5 10.9,-8.2 10.9,-2.6" stroke-width="1.6"/><path d="M10.9,-2.6 C10.7,0.5 9.4,3.5 8.9,5.2" stroke-width="1.4"/><path d="M15.3,-13.2 C13.4,-8.5 10.6,-1.5 8.7,5.2" stroke-width="1.0"/><path d="M23.0,-18.6 L19.5,-3.6 C18.9,-1.0 20.0,-0.3 21.3,-0.4 C23.1,-0.6 24.5,-2.6 25.2,-4.5" stroke-width="1.7"/><path d="M17.6,-12.6 L25.9,-12.6" stroke-width="1.0"/></g>
<line x1="594.6" y1="539.2" x2="614.0" y2="539.2" stroke="#000" stroke-width="1.2"/>
<line x1="594.6" y1="544.7" x2="614.0" y2="544.7" stroke="#000" stroke-width="1.2"/>
<text x="620.4" y="550.1" font-family="Liberation Serif, serif" stroke="#fff" stroke-width="0.45" font-size="26.7">0.0001</text>
<rect x="490.9" y="562.0" width="43.1" height="10.9" fill="#e2d80e"/>
<g transform="translate(558.1,575.5)" fill="none" stroke="#000" stroke-linecap="round" stroke-linejoin="round"><path d="M0.2,-8.6 C1.6,-12.2 3.6,-13.5 5.6,-13.5 C9.2,-13.5 10.9,-8.2 10.9,-2.6" stroke-width="1.6"/><path d="M10.9,-2.6 C10.7,0.5 9.4,3.5 8.9,5.2" stroke-width="1.4"/><path d="M15.3,-13.2 C13.4,-8.5 10.6,-1.5 8.7,5.2" stroke-width="1.0"/><path d="M23.0,-18.6 L19.5,-3.6 C18.9,-1.0 20.0,-0.3 21.3,-0.4 C23.1,-0.6 24.5,-2.6 25.2,-4.5" stroke-width="1.7"/><path d="M17.6,-12.6 L25.9,-12.6" stroke-width="1.0"/></g>
<line x1="594.6" y1="565.2" x2="614.0" y2="565.2" stroke="#000" stroke-width="1.2"/>
<line x1="594.6" y1="570.7" x2="614.0" y2="570.7" stroke="#000" stroke-width="1.2"/>
<text x="620.4" y="576.1" font-family="Liberation Serif, serif" stroke="#fff" stroke-width="0.45" font-size="26.7">0.001</text>
<rect x="490.9" y="588.1" width="43.1" height="10.9" fill="#66ee11"/>
<g transform="translate(558.1,601.7)" fill="none" stroke="#000" stroke-linecap="round" stroke-linejoin="round"><path d="M0.2,-8.6 C1.6,-12.2 3.6,-13.5 5.6,-13.5 C9.2,-13.5 10.9,-8.2 10.9,-2.6" stroke-width="1.6"/><path d="M10.9,-2.6 C10.7,0.5 9.4,3.5 8.9,5.2" stroke-width="1.4"/><path d="M15.3,-13.2 C13.4,-8.5 10.6,-1.5 8.7,5.2" stroke-width="1.0"/><path d="M23.0,-18.6 L19.5,-3.6 C18.9,-1.0 20.0,-0.3 21.3,-0.4 C23.1,-0.6 24.5,-2.6 25.2,-4.5" stroke-width="1.7"/><path d="M17.6,-12.6 L25.9,-12.6" stroke-width="1.0"/></g>
<line x1="594.6" y1="591.4" x2="614.0" y2="591.4" stroke="#000" stroke-width="1.2"/>
<line x1="594.6" y1="596.9" x2="614.0" y2="596.9" stroke="#000" stroke-width="1.2"/>
<text x="620.4" y="602.3" font-family="Liberation Serif, serif" stroke="#fff" stroke-width="0.45" font-size="26.7">0.0025</text>
<rect x="728.8" y="509.7" width="41.9" height="10.9" fill="#0eeed8"/>
<g transform="translate(798.0,523.0)" fill="none" stroke="#000" stroke-linecap="round" stroke-linejoin="round"><path d="M0.2,-8.6 C1.6,-12.2 3.6,-13.5 5.6,-13.5 C9.2,-13.5 10.9,-8.2 10.9,-2.6" stroke-width="1.6"/><path d="M10.9,-2.6 C10.7,0.5 9.4,3.5 8.9,5.2" stroke-width="1.4"/><path d="M15.3,-13.2 C13.4,-8.5 10.6,-1.5 8.7,5.2" stroke-width="1.0"/><path d="M23.0,-18.6 L19.5,-3.6 C18.9,-1.0 20.0,-0.3 21.3,-0.4 C23.1,-0.6 24.5,-2.6 25.2,-4.5" stroke-width="1.7"/><path d="M17.6,-12.6 L25.9,-12.6" stroke-width="1.0"/></g>
<line x1="835.2" y1="512.7" x2="854.6" y2="512.7" stroke="#000" stroke-width="1.2"/>
<line x1="835.2" y1="518.2" x2="854.6" y2="518.2" stroke="#000" stroke-width="1.2"/>
<text x="857.1" y="523.6" font-family="Liberation Serif, serif" stroke="#fff" stroke-width="0.45" font-size="26.7">0.005</text>
<rect x="728.8" y="537.6" width="41.9" height="10.9" fill="#0e5cee"/>
<g transform="translate(798.0,550.7)" fill="none" stroke="#000" stroke-linecap="round" stroke-linejoin="round"><path d="M0.2,-8.6 C1.6,-12.2 3.6,-13.5 5.6,-13.5 C9.2,-13.5 10.9,-8.2 10.9,-2.6" stroke-width="1.6"/><path d="M10.9,-2.6 C10.7,0.5 9.4,3.5 8.9,5.2" stroke-width="1.4"/><path d="M15.3,-13.2 C13.4,-8.5 10.6,-1.5 8.7,5.2" stroke-width="1.0"/><path d="M23.0,-18.6 L19.5,-3.6 C18.9,-1.0 20.0,-0.3 21.3,-0.4 C23.1,-0.6 24.5,-2.6 25.2,-4.5" stroke-width="1.7"/><path d="M17.6,-12.6 L25.9,-12.6" stroke-width="1.0"/></g>
<line x1="835.2" y1="540.4" x2="854.6" y2="540.4" stroke="#000" stroke-width="1.2"/>
<line x1="835.2" y1="545.9" x2="854.6" y2="545.9" stroke="#000" stroke-width="1.2"/>
<text x="857.1" y="551.3" font-family="Liberation Serif, serif" stroke="#fff" stroke-width="0.45" font-size="26.7">0.0075</text>
<rect x="728.8" y="565.4" width="41.9" height="10.9" fill="#bb0eee"/>
<g transform="translate(798.0,577.9)" fill="none" stroke="#000" stroke-linecap="round" stroke-linejoin="round"><path d="M0.2,-8.6 C1.6,-12.2 3.6,-13.5 5.6,-13.5 C9.2,-13.5 10.9,-8.2 10.9,-2.6" stroke-width="1.6"/><path d="M10.9,-2.6 C10.7,0.5 9.4,3.5 8.9,5.2" stroke-width="1.4"/><path d="M15.3,-13.2 C13.4,-8.5 10.6,-1.5 8.7,5.2" stroke-width="1.0"/><path d="M23.0,-18.6 L19.5,-3.6 C18.9,-1.0 20.0,-0.3 21.3,-0.4 C23.1,-0.6 24.5,-2.6 25.2,-4.5" stroke-width="1.7"/><path d="M17.6,-12.6 L25.9,-12.6" stroke-width="1.0"/></g>
<line x1="835.2" y1="567.6" x2="854.6" y2="567.6" stroke="#000" stroke-width="1.2"/>
<line x1="835.2" y1="573.1" x2="854.6" y2="573.1" stroke="#000" stroke-width="1.2"/>
<text x="857.1" y="578.5" font-family="Liberation Serif, serif" stroke="#fff" stroke-width="0.45" font-size="26.7">0.01</text>
</svg></body></html>
